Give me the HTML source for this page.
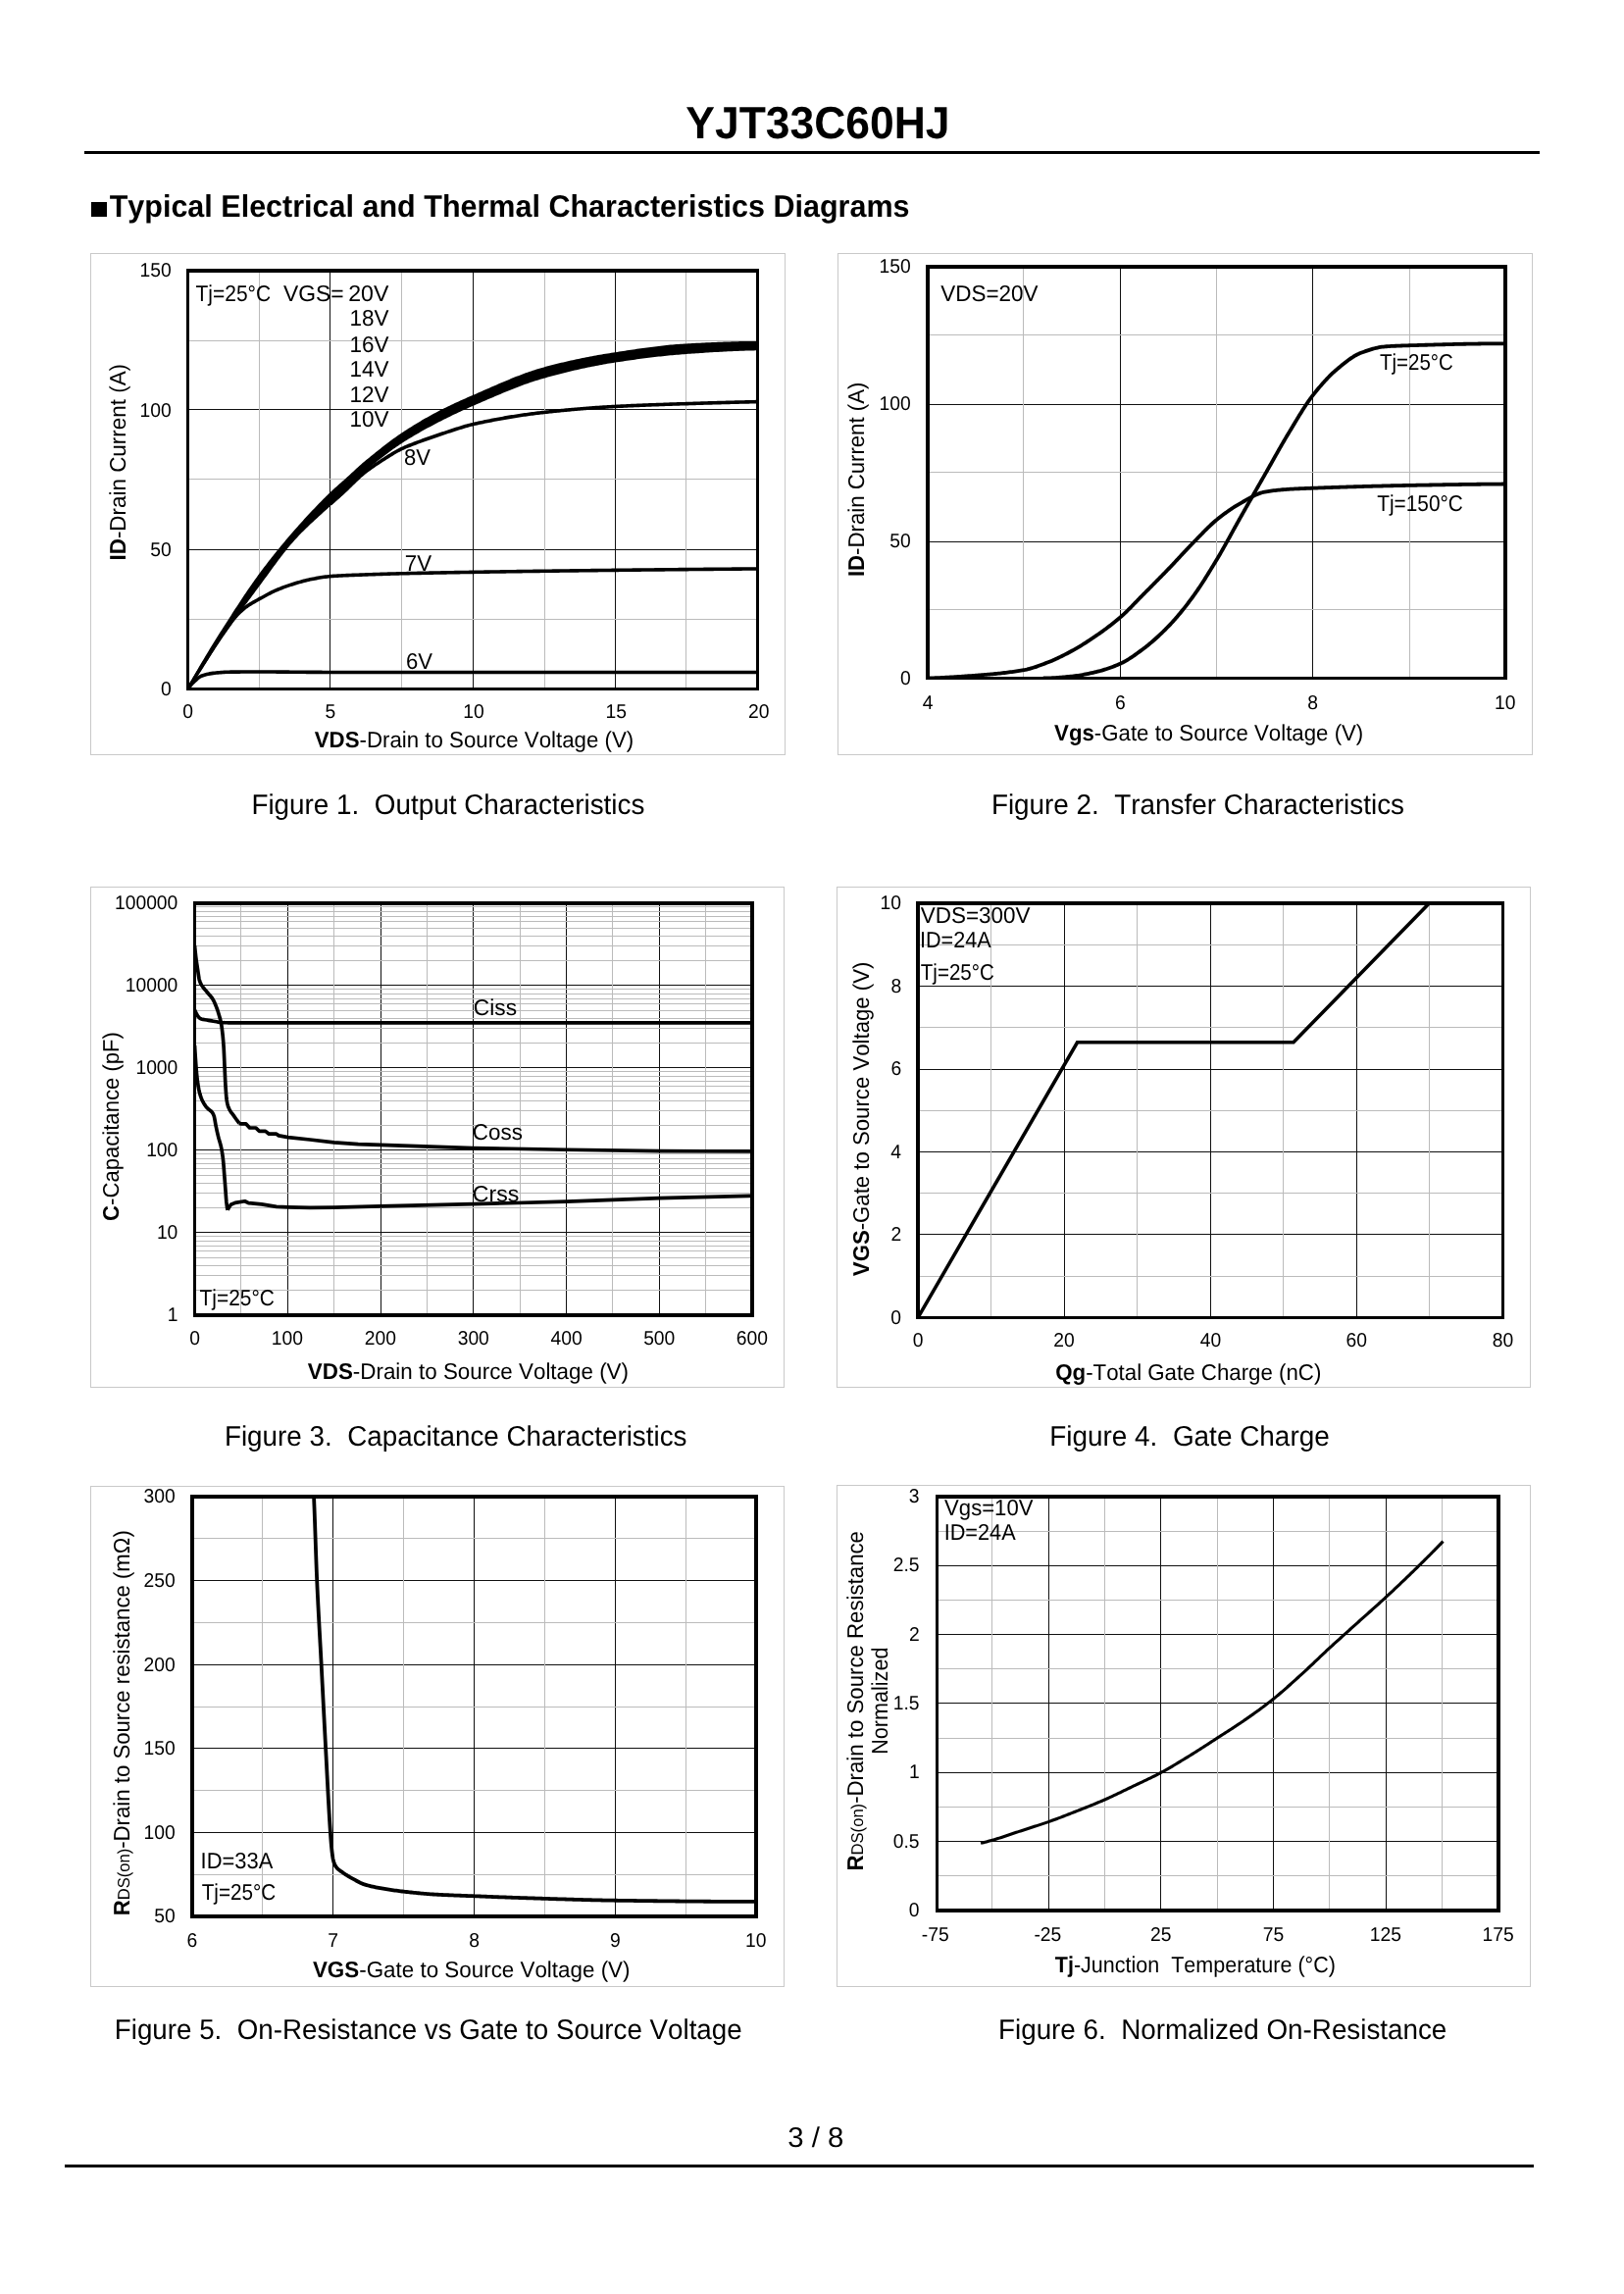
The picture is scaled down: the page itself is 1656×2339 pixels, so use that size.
<!DOCTYPE html>
<html lang="en"><head><meta charset="utf-8"><title>YJT33C60HJ - Typical Electrical and Thermal Characteristics Diagrams</title>
<style>html,body{margin:0;padding:0;background:#fff}body{width:1656px;height:2339px;overflow:hidden}svg{display:block;will-change:transform}text{font-family:"Liberation Sans",sans-serif;fill:#000;font-kerning:none;white-space:pre;text-rendering:geometricPrecision}</style></head><body>
<svg width="1656" height="2339" viewBox="0 0 1656 2339">
<rect width="1656" height="2339" fill="#fff"/>
<text x="699.34" y="141" font-size="46.1" textLength="269.09" lengthAdjust="spacingAndGlyphs"><tspan font-weight="bold">YJT33C60HJ</tspan></text>
<rect x="86" y="154" width="1484" height="3" fill="#000" shape-rendering="crispEdges"/>
<rect x="93" y="206" width="16" height="15" fill="#000"/>
<text x="111.66" y="221" font-size="31.7" textLength="815.89" lengthAdjust="spacingAndGlyphs"><tspan font-weight="bold">Typical Electrical and Thermal Characteristics Diagrams</tspan></text>
<text x="803.28" y="2188.5" font-size="28.8" textLength="57.2" lengthAdjust="spacingAndGlyphs">3 / 8</text>
<rect x="66" y="2207" width="1498" height="3" fill="#000" shape-rendering="crispEdges"/>
<text x="256.41" y="830" font-size="28.8" textLength="400.99" lengthAdjust="spacingAndGlyphs">Figure 1.  Output Characteristics</text>
<text x="1010.91" y="830" font-size="28.8" textLength="421.09" lengthAdjust="spacingAndGlyphs">Figure 2.  Transfer Characteristics</text>
<text x="228.92" y="1474" font-size="28.8" textLength="471.59" lengthAdjust="spacingAndGlyphs">Figure 3.  Capacitance Characteristics</text>
<text x="1070.21" y="1474" font-size="28.8" textLength="285.53" lengthAdjust="spacingAndGlyphs">Figure 4.  Gate Charge</text>
<text x="116.82" y="2079" font-size="28.8" textLength="639.81" lengthAdjust="spacingAndGlyphs">Figure 5.  On-Resistance vs Gate to Source Voltage</text>
<text x="1018.02" y="2079" font-size="28.8" textLength="457.32" lengthAdjust="spacingAndGlyphs">Figure 6.  Normalized On-Resistance</text>
<rect x="92.5" y="258.5" width="708" height="511" fill="#fff" stroke="#c9c9c9" stroke-width="1"/>
<clipPath id="cp1"><rect x="191.5" y="276" width="581" height="426.5"/></clipPath>
<g stroke-width="1" shape-rendering="crispEdges" fill="none"><path d="M336.5,276 V702.5" stroke="#101010"/><path d="M482.5,276 V702.5" stroke="#101010"/><path d="M627.5,276 V702.5" stroke="#101010"/><path d="M191.5,560.5 H772.5" stroke="#101010"/><path d="M191.5,417.5 H772.5" stroke="#101010"/><path d="M264.5,276 V702.5" stroke="#bbbbbb"/><path d="M409.5,276 V702.5" stroke="#bbbbbb"/><path d="M555.5,276 V702.5" stroke="#bbbbbb"/><path d="M699.5,276 V702.5" stroke="#bbbbbb"/><path d="M191.5,631.5 H772.5" stroke="#bbbbbb"/><path d="M191.5,488.5 H772.5" stroke="#bbbbbb"/><path d="M191.5,347.5 H772.5" stroke="#bbbbbb"/></g>
<path d="M191.5,700.4 L192.54,698.52 L193.57,696.64 L194.61,694.77 L195.65,692.91 L196.69,691.05 L197.72,689.21 L198.76,687.37 L199.8,685.54 L200.84,683.73 L201.88,681.92 L202.91,680.12 L203.95,678.34 L204.99,676.56 L206.03,674.8 L207.11,672.96 L208.2,671.13 L209.29,669.31 L210.38,667.49 L211.47,665.69 L212.56,663.89 L213.65,662.1 L214.74,660.32 L215.83,658.55 L216.92,656.79 L218.01,655.03 L219.1,653.28 L220.19,651.53 L221.28,649.79 L222.37,648.06 L223.46,646.34 L224.54,644.62 L225.63,642.91 L226.72,641.2 L227.81,639.5 L228.95,637.73 L230.08,635.96 L231.22,634.19 L232.35,632.43 L233.49,630.66 L234.62,628.89 L235.76,627.13 L236.89,625.37 L238.03,623.62 L239.16,621.87 L240.29,620.12 L241.43,618.38 L242.56,616.64 L243.7,614.91 L244.83,613.19 L245.97,611.47 L247.1,609.76 L248.24,608.06 L249.37,606.36 L250.51,604.68 L251.64,603 L252.78,601.33 L253.91,599.68 L255.05,598.03 L256.18,596.39 L257.32,594.77 L258.45,593.16 L259.59,591.56 L260.72,589.97 L261.86,588.4 L262.99,586.84 L264.12,585.3 L265.42,583.55 L266.72,581.81 L268.02,580.09 L269.31,578.37 L270.61,576.67 L271.91,574.97 L273.2,573.29 L274.5,571.62 L275.8,569.96 L277.09,568.32 L278.39,566.68 L279.69,565.05 L280.98,563.43 L282.28,561.83 L283.58,560.23 L284.88,558.64 L286.17,557.06 L287.47,555.5 L288.77,553.94 L290.06,552.39 L291.36,550.85 L292.66,549.31 L293.95,547.79 L295.25,546.28 L296.55,544.77 L297.84,543.27 L299.14,541.78 L300.44,540.3 L301.83,538.71 L303.23,537.13 L304.63,535.56 L306.02,534 L307.42,532.45 L308.82,530.9 L310.21,529.37 L311.61,527.84 L313.01,526.32 L314.4,524.82 L315.8,523.32 L317.2,521.83 L318.59,520.35 L319.99,518.88 L321.39,517.42 L322.78,515.96 L324.18,514.52 L325.58,513.09 L326.97,511.67 L328.37,510.26 L329.77,508.85 L331.16,507.46 L332.56,506.08 L333.96,504.71 L335.35,503.35 L336.75,502 L338.33,500.49 L339.92,499.02 L341.5,497.57 L343.09,496.14 L344.67,494.72 L346.26,493.32 L347.84,491.93 L349.43,490.53 L351.01,489.13 L352.6,487.72 L354.18,486.3 L355.71,484.91 L357.24,483.5 L358.78,482.09 L360.31,480.68 L361.84,479.26 L363.37,477.85 L364.9,476.45 L366.43,475.06 L367.97,473.69 L369.5,472.33 L371.03,471 L372.05,470.14 L373.06,469.3 L374.71,467.97 L376.36,466.63 L378.01,465.3 L379.66,463.97 L381.32,462.64 L382.97,461.32 L384.62,460 L386.27,458.69 L387.92,457.39 L389.57,456.1 L391.22,454.81 L392.87,453.54 L394.52,452.28 L396.17,451.03 L397.82,449.79 L399.47,448.57 L401.12,447.36 L402.77,446.17 L404.42,445 L406.07,443.85 L407.72,442.71 L409.38,441.6 L411.1,440.45 L412.83,439.31 L414.56,438.19 L416.29,437.08 L418.02,435.98 L419.75,434.89 L421.48,433.81 L423.21,432.75 L424.94,431.7 L426.67,430.66 L428.4,429.63 L430.12,428.62 L431.85,427.61 L433.58,426.62 L435.31,425.64 L437.04,424.67 L438.77,423.71 L440.5,422.77 L442.23,421.83 L443.96,420.91 L445.69,420 L447.5,419.06 L449.32,418.12 L451.13,417.21 L452.95,416.3 L454.77,415.4 L456.58,414.52 L458.4,413.65 L460.21,412.78 L462.03,411.93 L463.84,411.08 L465.66,410.25 L467.48,409.42 L469.29,408.59 L471.11,407.78 L472.92,406.97 L474.74,406.17 L476.55,405.37 L478.37,404.58 L480.18,403.79 L482,403 L483.86,402.19 L485.72,401.38 L487.59,400.57 L489.45,399.76 L491.31,398.94 L493.17,398.12 L495.04,397.3 L496.9,396.48 L498.76,395.66 L500.62,394.85 L502.48,394.03 L504.35,393.22 L506.21,392.41 L508.07,391.6 L509.93,390.8 L511.79,390 L513.66,389.21 L515.52,388.43 L517.38,387.65 L519.24,386.88 L521.11,386.11 L522.97,385.36 L524.83,384.61 L526.69,383.87 L528.55,383.15 L530.42,382.43 L532.28,381.73 L534.14,381.04 L536,380.36 L537.87,379.69 L539.73,379.04 L541.59,378.4 L543.45,377.78 L545.31,377.17 L547.18,376.58 L549.04,376.01 L550.9,375.46 L552.76,374.92 L554.62,374.4 L556.59,373.87 L558.55,373.34 L560.51,372.82 L562.48,372.31 L564.44,371.81 L566.4,371.32 L568.36,370.83 L570.33,370.35 L572.29,369.87 L574.25,369.41 L576.22,368.95 L578.18,368.49 L580.14,368.05 L582.1,367.61 L584.07,367.18 L586.03,366.75 L587.99,366.33 L589.96,365.92 L591.92,365.51 L593.88,365.11 L595.84,364.71 L597.81,364.33 L599.77,363.94 L601.73,363.57 L603.7,363.2 L605.66,362.84 L607.62,362.48 L609.58,362.12 L611.55,361.78 L613.51,361.44 L615.47,361.1 L617.44,360.77 L619.4,360.45 L621.36,360.13 L623.32,359.81 L625.29,359.5 L627.25,359.2 L629.27,358.89 L631.28,358.58 L633.3,358.27 L635.32,357.96 L637.34,357.65 L639.35,357.35 L641.37,357.04 L643.39,356.74 L645.41,356.44 L647.42,356.14 L649.44,355.85 L651.46,355.56 L653.48,355.27 L655.49,354.98 L657.51,354.7 L659.53,354.43 L661.55,354.16 L663.56,353.89 L665.58,353.63 L667.6,353.38 L669.61,353.13 L671.63,352.89 L673.65,352.66 L675.67,352.43 L677.68,352.21 L679.7,352 L681.72,351.8 L683.74,351.61 L685.75,351.42 L687.77,351.24 L689.79,351.08 L691.81,350.92 L693.82,350.77 L695.84,350.64 L697.86,350.51 L699.88,350.4 L701.89,350.29 L703.91,350.18 L705.93,350.08 L707.94,349.97 L709.96,349.87 L711.98,349.76 L714,349.66 L716.01,349.56 L718.03,349.46 L720.05,349.36 L722.07,349.27 L724.08,349.17 L726.1,349.08 L728.12,348.99 L730.14,348.91 L732.15,348.82 L734.17,348.74 L736.19,348.66 L738.2,348.59 L740.22,348.52 L742.24,348.45 L744.26,348.38 L746.27,348.32 L748.29,348.26 L750.31,348.21 L752.33,348.15 L754.34,348.11 L756.36,348.07 L758.38,348.03 L760.4,348 L762.41,347.97 L764.43,347.94 L766.45,347.92 L768.47,347.91 L770.48,347.9 L772.5,347.9 L772.5,357.3 L770.48,357.34 L768.47,357.38 L766.45,357.43 L764.43,357.48 L762.41,357.54 L760.4,357.6 L758.38,357.67 L756.36,357.74 L754.34,357.81 L752.33,357.89 L750.31,357.97 L748.29,358.06 L746.27,358.15 L744.26,358.25 L742.24,358.35 L740.22,358.45 L738.2,358.55 L736.19,358.66 L734.17,358.77 L732.15,358.88 L730.14,359 L728.12,359.12 L726.1,359.24 L724.08,359.37 L722.07,359.49 L720.05,359.62 L718.03,359.75 L716.01,359.89 L714,360.02 L711.98,360.16 L709.96,360.29 L707.94,360.43 L705.93,360.57 L703.91,360.71 L701.89,360.86 L699.88,361 L697.86,361.15 L695.84,361.3 L693.82,361.46 L691.81,361.63 L689.79,361.8 L687.77,361.98 L685.75,362.16 L683.74,362.35 L681.72,362.55 L679.7,362.75 L677.68,362.95 L675.67,363.17 L673.65,363.38 L671.63,363.61 L669.61,363.83 L667.6,364.07 L665.58,364.3 L663.56,364.55 L661.55,364.79 L659.53,365.04 L657.51,365.3 L655.49,365.56 L653.48,365.82 L651.46,366.09 L649.44,366.37 L647.42,366.64 L645.41,366.92 L643.39,367.21 L641.37,367.49 L639.35,367.79 L637.34,368.08 L635.32,368.38 L633.3,368.68 L631.28,368.98 L629.27,369.29 L627.25,369.6 L625.29,369.91 L623.32,370.22 L621.36,370.54 L619.4,370.87 L617.44,371.21 L615.47,371.56 L613.51,371.91 L611.55,372.27 L609.58,372.64 L607.62,373.01 L605.66,373.39 L603.7,373.78 L601.73,374.18 L599.77,374.58 L597.81,374.99 L595.84,375.41 L593.88,375.84 L591.92,376.27 L589.96,376.71 L587.99,377.15 L586.03,377.6 L584.07,378.06 L582.1,378.53 L580.14,379 L578.18,379.48 L576.22,379.96 L574.25,380.45 L572.29,380.95 L570.33,381.45 L568.36,381.96 L566.4,382.48 L564.44,383 L562.48,383.53 L560.51,384.06 L558.55,384.6 L556.59,385.15 L554.62,385.7 L552.71,386.25 L550.8,386.81 L548.89,387.4 L546.98,387.99 L545.07,388.6 L543.16,389.23 L541.25,389.87 L539.34,390.53 L537.42,391.19 L535.51,391.87 L533.6,392.57 L531.69,393.27 L529.78,393.98 L527.87,394.71 L525.96,395.45 L524.05,396.19 L522.13,396.95 L520.22,397.71 L518.31,398.48 L516.4,399.26 L514.49,400.04 L512.58,400.84 L510.67,401.64 L508.76,402.44 L506.85,403.25 L504.93,404.06 L503.02,404.88 L501.11,405.7 L499.2,406.53 L497.29,407.35 L495.38,408.18 L493.47,409.01 L491.56,409.84 L489.64,410.68 L487.73,411.51 L485.82,412.34 L483.91,413.17 L482,414 L480.18,414.79 L478.37,415.59 L476.55,416.4 L474.74,417.21 L472.92,418.03 L471.11,418.86 L469.29,419.69 L467.48,420.54 L465.66,421.39 L463.84,422.25 L462.03,423.12 L460.21,424 L458.4,424.88 L456.58,425.77 L454.77,426.67 L452.95,427.58 L451.13,428.5 L449.32,429.42 L447.5,430.36 L445.69,431.3 L443.87,432.25 L442.06,433.2 L440.24,434.17 L438.43,435.14 L436.61,436.11 L434.79,437.1 L432.98,438.09 L431.16,439.1 L429.35,440.12 L427.53,441.14 L425.72,442.18 L423.9,443.24 L422.08,444.3 L420.27,445.38 L418.45,446.48 L416.64,447.59 L414.82,448.71 L413.01,449.86 L411.19,451.02 L409.38,452.2 L407.72,453.29 L406.07,454.4 L404.42,455.53 L402.77,456.68 L401.12,457.84 L399.47,459.03 L397.82,460.23 L396.17,461.44 L394.52,462.67 L392.87,463.92 L391.22,465.17 L389.57,466.45 L387.92,467.73 L386.27,469.03 L384.62,470.34 L382.97,471.66 L381.32,473 L379.66,474.34 L378.01,475.69 L376.36,477.05 L374.71,478.42 L373.06,479.8 L372.05,480.67 L371.03,481.6 L369.62,482.99 L368.22,484.47 L366.82,486.02 L365.41,487.63 L364.01,489.27 L362.6,490.93 L361.2,492.59 L359.8,494.24 L358.39,495.86 L356.99,497.44 L355.58,498.96 L354.18,500.4 L352.6,501.94 L351.01,503.43 L349.43,504.88 L347.84,506.29 L346.26,507.67 L344.67,509.04 L343.09,510.4 L341.5,511.77 L339.92,513.15 L338.33,514.56 L336.75,516 L335.3,517.34 L333.85,518.66 L332.39,519.99 L330.94,521.3 L329.49,522.62 L328.04,523.94 L326.58,525.25 L325.13,526.57 L323.68,527.89 L322.23,529.22 L320.77,530.55 L319.32,531.9 L317.87,533.25 L316.42,534.61 L314.96,535.99 L313.51,537.38 L312.06,538.79 L310.61,540.21 L309.15,541.66 L307.7,543.12 L306.25,544.61 L304.8,546.11 L303.34,547.65 L301.89,549.21 L300.44,550.8 L299.19,552.2 L297.93,553.63 L296.68,555.08 L295.43,556.56 L294.18,558.07 L292.92,559.6 L291.67,561.15 L290.42,562.73 L289.17,564.32 L287.92,565.93 L286.66,567.56 L285.41,569.2 L284.16,570.86 L282.91,572.53 L281.66,574.21 L280.4,575.9 L279.15,577.6 L277.9,579.3 L276.65,581.01 L275.39,582.73 L274.14,584.44 L272.89,586.16 L271.64,587.88 L270.39,589.6 L269.13,591.31 L267.88,593.02 L266.63,594.72 L265.38,596.41 L264.12,598.1 L262.95,599.67 L261.78,601.25 L260.61,602.82 L259.44,604.4 L258.27,605.98 L257.1,607.56 L255.93,609.14 L254.75,610.72 L253.58,612.31 L252.41,613.9 L251.24,615.49 L250.07,617.09 L248.9,618.69 L247.73,620.3 L246.55,621.9 L245.38,623.52 L244.21,625.13 L243.04,626.76 L241.87,628.38 L240.7,630.02 L239.53,631.65 L238.35,633.3 L237.18,634.95 L236.01,636.61 L234.84,638.27 L233.67,639.94 L232.5,641.62 L231.33,643.3 L230.16,644.99 L228.98,646.69 L227.81,648.4 L226.67,650.08 L225.52,651.79 L224.37,653.5 L223.23,655.23 L222.08,656.97 L220.93,658.72 L219.79,660.48 L218.64,662.25 L217.49,664.02 L216.35,665.8 L215.2,667.58 L214.05,669.37 L212.91,671.15 L211.76,672.94 L210.61,674.72 L209.47,676.5 L208.32,678.27 L207.17,680.04 L206.03,681.8 L204.91,683.51 L203.79,685.22 L202.67,686.93 L201.56,688.64 L200.44,690.35 L199.32,692.05 L198.2,693.76 L197.09,695.47 L195.97,697.18 L194.85,698.88 L193.73,700.59 L192.62,702.29 L191.5,704 Z" fill="#000" clip-path="url(#cp1)"/>
<path d="M191.5,702.5 L192.31,701.18 L193.11,699.87 L193.92,698.56 L194.73,697.25 L195.53,695.94 L196.34,694.64 L197.15,693.34 L197.96,692.04 L198.76,690.74 L199.57,689.44 L200.38,688.15 L201.18,686.86 L201.99,685.57 L202.8,684.29 L203.6,683.01 L204.41,681.73 L205.22,680.46 L206.03,679.18 L206.86,677.86 L207.7,676.54 L208.54,675.21 L209.38,673.88 L210.21,672.55 L211.05,671.22 L211.89,669.89 L212.73,668.56 L213.57,667.24 L214.4,665.91 L215.24,664.59 L216.08,663.27 L216.92,661.96 L217.76,660.65 L218.59,659.35 L219.43,658.05 L220.27,656.77 L221.11,655.49 L221.95,654.22 L222.78,652.96 L223.62,651.71 L224.46,650.47 L225.3,649.24 L226.14,648.02 L226.97,646.82 L227.81,645.63 L228.78,644.26 L229.75,642.89 L230.72,641.51 L231.69,640.14 L232.65,638.77 L233.62,637.42 L234.59,636.08 L235.56,634.77 L236.53,633.48 L237.5,632.23 L238.46,631.01 L239.43,629.83 L240.4,628.69 L241.37,627.61 L242.34,626.58 L243.61,625.3 L244.88,624.07 L246.15,622.89 L247.42,621.76 L248.69,620.68 L249.96,619.66 L251.23,618.69 L252.5,617.77 L253.96,616.78 L255.41,615.86 L256.86,614.98 L258.31,614.14 L259.77,613.33 L261.22,612.53 L262.67,611.74 L264.12,610.94 L265.47,610.2 L266.81,609.45 L268.15,608.7 L269.49,607.95 L270.83,607.21 L272.17,606.48 L273.51,605.76 L274.85,605.05 L276.19,604.37 L277.53,603.7 L278.87,603.05 L280.21,602.44 L281.56,601.85 L283.01,601.23 L284.46,600.63 L285.91,600.05 L287.37,599.48 L288.82,598.93 L290.27,598.39 L291.72,597.87 L293.18,597.36 L294.63,596.87 L296.08,596.39 L297.53,595.92 L298.99,595.46 L300.44,595.02 L302.01,594.55 L303.58,594.09 L305.16,593.64 L306.73,593.19 L308.31,592.76 L309.88,592.34 L311.45,591.93 L313.03,591.54 L314.6,591.17 L316.17,590.82 L317.75,590.49 L319.32,590.19 L320.9,589.9 L322.49,589.61 L324.07,589.33 L325.66,589.05 L327.24,588.79 L328.83,588.55 L330.41,588.32 L332,588.11 L333.58,587.93 L335.17,587.76 L336.75,587.63 L338.26,587.52 L339.78,587.41 L341.29,587.31 L342.8,587.22 L344.32,587.13 L345.83,587.04 L347.34,586.96 L348.85,586.88 L350.37,586.81 L351.88,586.74 L353.39,586.67 L354.91,586.6 L356.42,586.54 L357.93,586.48 L359.45,586.42 L360.96,586.36 L362.47,586.31 L363.98,586.25 L365.5,586.2 L367.01,586.14 L368.52,586.09 L370.04,586.03 L371.55,585.98 L373.06,585.92 L374.58,585.87 L376.09,585.81 L377.6,585.76 L379.11,585.7 L380.63,585.65 L382.14,585.6 L383.65,585.54 L385.17,585.49 L386.68,585.44 L388.19,585.39 L389.71,585.34 L391.22,585.3 L392.73,585.25 L394.24,585.2 L395.76,585.16 L397.27,585.11 L398.78,585.07 L400.3,585.03 L401.81,584.98 L403.32,584.94 L404.84,584.9 L406.35,584.86 L407.86,584.82 L409.38,584.79 L410.89,584.75 L412.4,584.71 L413.91,584.68 L415.43,584.64 L416.94,584.6 L418.45,584.57 L419.97,584.53 L421.48,584.5 L422.99,584.47 L424.51,584.43 L426.02,584.4 L427.53,584.37 L429.04,584.33 L430.56,584.3 L432.07,584.27 L433.58,584.24 L435.1,584.21 L436.61,584.18 L438.12,584.15 L439.64,584.12 L441.15,584.09 L442.66,584.06 L444.17,584.03 L445.69,584 L447.2,583.97 L448.71,583.94 L450.23,583.91 L451.74,583.89 L453.25,583.86 L454.77,583.83 L456.28,583.8 L457.79,583.78 L459.3,583.75 L460.82,583.72 L462.33,583.7 L463.84,583.67 L465.36,583.64 L466.87,583.62 L468.38,583.59 L469.9,583.57 L471.41,583.54 L472.92,583.52 L474.43,583.49 L475.95,583.46 L477.46,583.44 L478.97,583.41 L480.49,583.39 L482,583.36 L483.51,583.34 L485.03,583.31 L486.54,583.29 L488.05,583.27 L489.57,583.24 L491.08,583.22 L492.59,583.19 L494.1,583.17 L495.62,583.14 L497.13,583.12 L498.64,583.1 L500.16,583.07 L501.67,583.05 L503.18,583.03 L504.7,583 L506.21,582.98 L507.72,582.96 L509.23,582.93 L510.75,582.91 L512.26,582.89 L513.77,582.86 L515.29,582.84 L516.8,582.82 L518.31,582.8 L519.83,582.77 L521.34,582.75 L522.85,582.73 L524.36,582.71 L525.88,582.68 L527.39,582.66 L528.9,582.64 L530.42,582.62 L531.93,582.6 L533.44,582.57 L534.96,582.55 L536.47,582.53 L537.98,582.51 L539.49,582.49 L541.01,582.47 L542.52,582.44 L544.03,582.42 L545.55,582.4 L547.06,582.38 L548.57,582.36 L550.09,582.34 L551.6,582.32 L553.11,582.3 L554.62,582.28 L556.14,582.26 L557.65,582.24 L559.16,582.22 L560.68,582.2 L562.19,582.18 L563.7,582.16 L565.22,582.14 L566.73,582.12 L568.24,582.1 L569.76,582.08 L571.27,582.06 L572.78,582.04 L574.29,582.02 L575.81,582 L577.32,581.98 L578.83,581.96 L580.35,581.94 L581.86,581.92 L583.37,581.9 L584.89,581.88 L586.4,581.86 L587.91,581.84 L589.42,581.83 L590.94,581.81 L592.45,581.79 L593.96,581.77 L595.48,581.75 L596.99,581.73 L598.5,581.71 L600.02,581.69 L601.53,581.68 L603.04,581.66 L604.55,581.64 L606.07,581.62 L607.58,581.6 L609.09,581.59 L610.61,581.57 L612.12,581.55 L613.63,581.53 L615.15,581.51 L616.66,581.5 L618.17,581.48 L619.68,581.46 L621.2,581.44 L622.71,581.43 L624.22,581.41 L625.74,581.39 L627.25,581.37 L628.76,581.36 L630.28,581.34 L631.79,581.32 L633.3,581.31 L634.82,581.29 L636.33,581.27 L637.84,581.25 L639.35,581.24 L640.87,581.22 L642.38,581.2 L643.89,581.19 L645.41,581.17 L646.92,581.15 L648.43,581.14 L649.95,581.12 L651.46,581.1 L652.97,581.09 L654.48,581.07 L656,581.05 L657.51,581.04 L659.02,581.02 L660.54,581 L662.05,580.99 L663.56,580.97 L665.08,580.96 L666.59,580.94 L668.1,580.92 L669.61,580.91 L671.13,580.89 L672.64,580.88 L674.15,580.86 L675.67,580.84 L677.18,580.83 L678.69,580.81 L680.21,580.8 L681.72,580.78 L683.23,580.77 L684.74,580.75 L686.26,580.73 L687.77,580.72 L689.28,580.7 L690.8,580.69 L692.31,580.67 L693.82,580.66 L695.34,580.64 L696.85,580.63 L698.36,580.61 L699.88,580.6 L701.39,580.58 L702.9,580.57 L704.41,580.55 L705.93,580.54 L707.44,580.52 L708.95,580.51 L710.47,580.49 L711.98,580.48 L713.49,580.47 L715.01,580.45 L716.52,580.44 L718.03,580.42 L719.54,580.41 L721.06,580.39 L722.57,580.38 L724.08,580.37 L725.6,580.35 L727.11,580.34 L728.62,580.32 L730.14,580.31 L731.65,580.3 L733.16,580.28 L734.67,580.27 L736.19,580.26 L737.7,580.24 L739.21,580.23 L740.73,580.22 L742.24,580.2 L743.75,580.19 L745.27,580.18 L746.78,580.16 L748.29,580.15 L749.8,580.14 L751.32,580.13 L752.83,580.11 L754.34,580.1 L755.86,580.09 L757.37,580.07 L758.88,580.06 L760.4,580.05 L761.91,580.04 L763.42,580.02 L764.93,580.01 L766.45,580 L767.96,579.99 L769.47,579.98 L770.99,579.96 L772.5,579.95" fill="none" stroke="#000" stroke-width="3.6" stroke-linejoin="round" stroke-linecap="butt" clip-path="url(#cp1)"/>
<path d="M336.75,513.99 L337.91,512.93 L339.07,511.88 L340.24,510.82 L341.4,509.77 L342.56,508.71 L343.72,507.65 L344.88,506.59 L346.05,505.53 L347.21,504.46 L348.37,503.4 L349.53,502.34 L350.69,501.27 L351.86,500.2 L353.02,499.13 L354.18,498.06 L355.3,497.02 L356.43,495.96 L357.55,494.88 L358.67,493.8 L359.8,492.71 L360.92,491.62 L362.04,490.53 L363.17,489.45 L364.29,488.38 L365.41,487.32 L366.54,486.29 L367.66,485.28 L368.78,484.29 L369.91,483.34 L371.03,482.43 L372.34,481.4 L373.64,480.39 L374.95,479.4 L376.26,478.44 L377.57,477.49 L378.87,476.56 L380.18,475.65 L381.49,474.75 L382.79,473.86 L384.1,472.99 L385.41,472.13 L386.72,471.27 L388.02,470.43 L389.33,469.59 L390.64,468.76 L391.95,467.92 L393.29,467.07 L394.63,466.22 L395.97,465.38 L397.31,464.53 L398.65,463.7 L399.99,462.88 L401.33,462.07 L402.67,461.28 L404.01,460.51 L405.35,459.76 L406.69,459.04 L408.03,458.35 L409.38,457.69 L410.83,457.01 L412.28,456.35 L413.73,455.72 L415.19,455.11 L416.64,454.52 L418.09,453.95 L419.54,453.38 L421,452.82 L422.45,452.27 L423.9,451.72 L425.35,451.17 L426.81,450.63 L428.26,450.1 L429.71,449.57 L431.16,449.05 L432.62,448.54 L434.07,448.03 L435.52,447.53 L436.97,447.03 L438.43,446.53 L439.88,446.03 L441.33,445.54 L442.78,445.04 L444.24,444.54 L445.69,444.04 L447.11,443.55 L448.53,443.05 L449.96,442.56 L451.38,442.07 L452.8,441.58 L454.23,441.09 L455.65,440.61 L457.08,440.13 L458.5,439.67 L459.92,439.21 L461.39,438.74 L462.87,438.26 L464.34,437.79 L465.81,437.31 L467.28,436.84 L468.75,436.37 L470.23,435.91 L471.7,435.46 L473.17,435.01 L474.64,434.58 L476.11,434.16 L477.58,433.76 L479.06,433.38 L480.53,433.01 L482,432.67 L483.48,432.33 L484.96,432.01 L486.45,431.68 L487.93,431.36 L489.41,431.04 L490.89,430.72 L492.38,430.41 L493.86,430.1 L495.34,429.8 L496.82,429.49 L498.3,429.2 L499.79,428.9 L501.27,428.61 L502.75,428.32 L504.23,428.04 L505.71,427.76 L507.2,427.48 L508.68,427.2 L510.16,426.93 L511.64,426.67 L513.12,426.4 L514.61,426.14 L516.09,425.89 L517.57,425.63 L519.05,425.38 L520.54,425.14 L522.02,424.89 L523.5,424.66 L524.98,424.42 L526.46,424.19 L527.95,423.96 L529.43,423.73 L530.91,423.51 L532.39,423.29 L533.88,423.08 L535.36,422.87 L536.84,422.66 L538.32,422.46 L539.8,422.25 L541.29,422.06 L542.77,421.86 L544.25,421.67 L545.73,421.49 L547.21,421.3 L548.7,421.12 L550.18,420.95 L551.66,420.78 L553.14,420.61 L554.62,420.44 L556.14,420.28 L557.65,420.11 L559.16,419.95 L560.68,419.79 L562.19,419.63 L563.7,419.47 L565.22,419.31 L566.73,419.16 L568.24,419.01 L569.76,418.86 L571.27,418.71 L572.78,418.56 L574.29,418.42 L575.81,418.27 L577.32,418.13 L578.83,417.99 L580.35,417.85 L581.86,417.72 L583.37,417.58 L584.89,417.45 L586.4,417.32 L587.91,417.19 L589.42,417.06 L590.94,416.93 L592.45,416.81 L593.96,416.69 L595.48,416.57 L596.99,416.45 L598.5,416.33 L600.02,416.22 L601.53,416.11 L603.04,415.99 L604.55,415.89 L606.07,415.78 L607.58,415.67 L609.09,415.57 L610.61,415.47 L612.12,415.37 L613.63,415.27 L615.15,415.17 L616.66,415.08 L618.17,414.99 L619.68,414.9 L621.2,414.81 L622.71,414.72 L624.22,414.63 L625.74,414.55 L627.25,414.47 L628.76,414.39 L630.28,414.31 L631.79,414.24 L633.3,414.16 L634.82,414.08 L636.33,414.01 L637.84,413.94 L639.35,413.87 L640.87,413.8 L642.38,413.73 L643.89,413.66 L645.41,413.59 L646.92,413.53 L648.43,413.46 L649.95,413.4 L651.46,413.34 L652.97,413.27 L654.48,413.21 L656,413.15 L657.51,413.09 L659.02,413.03 L660.54,412.97 L662.05,412.92 L663.56,412.86 L665.08,412.8 L666.59,412.75 L668.1,412.69 L669.61,412.64 L671.13,412.58 L672.64,412.53 L674.15,412.48 L675.67,412.43 L677.18,412.37 L678.69,412.32 L680.21,412.27 L681.72,412.22 L683.23,412.17 L684.74,412.12 L686.26,412.07 L687.77,412.02 L689.28,411.97 L690.8,411.92 L692.31,411.87 L693.82,411.82 L695.34,411.77 L696.85,411.72 L698.36,411.68 L699.88,411.63 L701.39,411.58 L702.9,411.53 L704.41,411.48 L705.93,411.43 L707.44,411.39 L708.95,411.34 L710.47,411.29 L711.98,411.24 L713.49,411.2 L715.01,411.15 L716.52,411.11 L718.03,411.06 L719.54,411.01 L721.06,410.97 L722.57,410.92 L724.08,410.88 L725.6,410.84 L727.11,410.79 L728.62,410.75 L730.14,410.7 L731.65,410.66 L733.16,410.62 L734.67,410.58 L736.19,410.53 L737.7,410.49 L739.21,410.45 L740.73,410.41 L742.24,410.37 L743.75,410.33 L745.27,410.29 L746.78,410.25 L748.29,410.21 L749.8,410.17 L751.32,410.13 L752.83,410.1 L754.34,410.06 L755.86,410.02 L757.37,409.98 L758.88,409.95 L760.4,409.91 L761.91,409.88 L763.42,409.84 L764.93,409.8 L766.45,409.77 L767.96,409.74 L769.47,409.7 L770.99,409.67 L772.5,409.64" fill="none" stroke="#000" stroke-width="3.6" stroke-linejoin="round" stroke-linecap="butt" clip-path="url(#cp1)"/>
<path d="M191.5,702.5 L192.66,700.97 L193.82,699.51 L194.99,698.12 L196.15,696.84 L197.31,695.68 L198.56,694.49 L199.8,693.32 L201.05,692.19 L202.29,691.16 L203.53,690.25 L204.78,689.5 L206.03,688.97 L207.64,688.45 L209.25,687.98 L210.87,687.57 L212.48,687.2 L214.09,686.88 L215.71,686.61 L217.32,686.37 L218.94,686.17 L220.55,686.01 L222.16,685.86 L223.78,685.73 L225.39,685.6 L227.01,685.49 L228.62,685.39 L230.23,685.3 L231.85,685.23 L233.46,685.18 L235.07,685.16 L236.6,685.14 L238.13,685.13 L239.66,685.11 L241.19,685.1 L242.72,685.09 L244.25,685.08 L245.78,685.07 L247.31,685.06 L248.84,685.05 L250.36,685.04 L251.89,685.04 L253.42,685.03 L254.95,685.03 L256.48,685.02 L258.01,685.02 L259.54,685.02 L261.07,685.02 L262.6,685.01 L264.12,685.01 L265.64,685.01 L267.15,685.02 L268.66,685.02 L270.18,685.02 L271.69,685.03 L273.2,685.03 L274.72,685.04 L276.23,685.05 L277.74,685.05 L279.26,685.06 L280.77,685.07 L282.28,685.08 L283.79,685.09 L285.31,685.1 L286.82,685.11 L288.33,685.12 L289.85,685.14 L291.36,685.15 L292.87,685.16 L294.39,685.17 L295.9,685.19 L297.41,685.2 L298.92,685.21 L300.44,685.23 L301.95,685.24 L303.46,685.25 L304.98,685.27 L306.49,685.28 L308,685.29 L309.52,685.31 L311.03,685.32 L312.54,685.33 L314.05,685.34 L315.57,685.35 L317.08,685.36 L318.59,685.37 L320.11,685.38 L321.62,685.39 L323.13,685.4 L324.65,685.41 L326.16,685.42 L327.67,685.42 L329.18,685.43 L330.7,685.43 L332.21,685.44 L333.72,685.44 L335.24,685.44 L336.75,685.44 L338.26,685.44 L339.78,685.44 L341.29,685.44 L342.8,685.44 L344.32,685.44 L345.83,685.44 L347.34,685.44 L348.85,685.44 L350.37,685.44 L351.88,685.44 L353.39,685.44 L354.91,685.44 L356.42,685.44 L357.93,685.44 L359.45,685.44 L360.96,685.44 L362.47,685.44 L363.98,685.44 L365.5,685.44 L367.01,685.44 L368.52,685.44 L370.04,685.44 L371.55,685.44 L373.06,685.44 L374.58,685.44 L376.09,685.44 L377.6,685.44 L379.11,685.44 L380.63,685.44 L382.14,685.44 L383.65,685.44 L385.17,685.44 L386.68,685.44 L388.19,685.44 L389.71,685.44 L391.22,685.44 L392.73,685.44 L394.24,685.44 L395.76,685.44 L397.27,685.44 L398.78,685.44 L400.3,685.44 L401.81,685.44 L403.32,685.44 L404.84,685.44 L406.35,685.44 L407.86,685.44 L409.38,685.44 L410.89,685.44 L412.4,685.44 L413.91,685.44 L415.43,685.44 L416.94,685.44 L418.45,685.44 L419.97,685.44 L421.48,685.44 L422.99,685.44 L424.51,685.44 L426.02,685.44 L427.53,685.44 L429.04,685.44 L430.56,685.44 L432.07,685.44 L433.58,685.44 L435.1,685.44 L436.61,685.44 L438.12,685.44 L439.64,685.44 L441.15,685.44 L442.66,685.44 L444.17,685.44 L445.69,685.44 L447.2,685.44 L448.71,685.44 L450.23,685.44 L451.74,685.44 L453.25,685.44 L454.77,685.44 L456.28,685.44 L457.79,685.44 L459.3,685.44 L460.82,685.44 L462.33,685.44 L463.84,685.44 L465.36,685.44 L466.87,685.44 L468.38,685.44 L469.9,685.44 L471.41,685.44 L472.92,685.44 L474.43,685.44 L475.95,685.44 L477.46,685.44 L478.97,685.44 L480.49,685.44 L482,685.44 L483.51,685.44 L485.01,685.44 L486.52,685.44 L488.02,685.44 L489.53,685.44 L491.03,685.44 L492.54,685.44 L494.04,685.44 L495.55,685.44 L497.05,685.44 L498.56,685.44 L500.06,685.44 L501.57,685.44 L503.07,685.44 L504.58,685.44 L506.08,685.44 L507.59,685.44 L509.09,685.44 L510.6,685.44 L512.1,685.44 L513.61,685.44 L515.11,685.44 L516.62,685.44 L518.12,685.44 L519.63,685.44 L521.13,685.44 L522.64,685.44 L524.15,685.44 L525.65,685.44 L527.16,685.44 L528.66,685.44 L530.17,685.44 L531.67,685.44 L533.18,685.44 L534.68,685.44 L536.19,685.44 L537.69,685.44 L539.2,685.44 L540.7,685.44 L542.21,685.44 L543.71,685.44 L545.22,685.44 L546.72,685.44 L548.23,685.44 L549.73,685.44 L551.24,685.44 L552.74,685.44 L554.25,685.44 L555.75,685.44 L557.26,685.44 L558.76,685.44 L560.27,685.44 L561.77,685.44 L563.28,685.44 L564.78,685.44 L566.29,685.44 L567.8,685.44 L569.3,685.44 L570.81,685.44 L572.31,685.44 L573.82,685.44 L575.32,685.44 L576.83,685.44 L578.33,685.44 L579.84,685.44 L581.34,685.44 L582.85,685.44 L584.35,685.44 L585.86,685.44 L587.36,685.44 L588.87,685.44 L590.37,685.44 L591.88,685.44 L593.38,685.44 L594.89,685.44 L596.39,685.44 L597.9,685.44 L599.4,685.44 L600.91,685.44 L602.41,685.44 L603.92,685.44 L605.42,685.44 L606.93,685.44 L608.44,685.44 L609.94,685.44 L611.45,685.44 L612.95,685.44 L614.46,685.44 L615.96,685.44 L617.47,685.44 L618.97,685.44 L620.48,685.44 L621.98,685.44 L623.49,685.44 L624.99,685.44 L626.5,685.44 L628,685.44 L629.51,685.44 L631.01,685.44 L632.52,685.44 L634.02,685.44 L635.53,685.44 L637.03,685.44 L638.54,685.44 L640.04,685.44 L641.55,685.44 L643.05,685.44 L644.56,685.44 L646.06,685.44 L647.57,685.44 L649.08,685.44 L650.58,685.44 L652.09,685.44 L653.59,685.44 L655.1,685.44 L656.6,685.44 L658.11,685.44 L659.61,685.44 L661.12,685.44 L662.62,685.44 L664.13,685.44 L665.63,685.44 L667.14,685.44 L668.64,685.44 L670.15,685.44 L671.65,685.44 L673.16,685.44 L674.66,685.44 L676.17,685.44 L677.67,685.44 L679.18,685.44 L680.68,685.44 L682.19,685.44 L683.69,685.44 L685.2,685.44 L686.7,685.44 L688.21,685.44 L689.72,685.44 L691.22,685.44 L692.73,685.44 L694.23,685.44 L695.74,685.44 L697.24,685.44 L698.75,685.44 L700.25,685.44 L701.76,685.44 L703.26,685.44 L704.77,685.44 L706.27,685.44 L707.78,685.44 L709.28,685.44 L710.79,685.44 L712.29,685.44 L713.8,685.44 L715.3,685.44 L716.81,685.44 L718.31,685.44 L719.82,685.44 L721.32,685.44 L722.83,685.44 L724.33,685.44 L725.84,685.44 L727.34,685.44 L728.85,685.44 L730.35,685.44 L731.86,685.44 L733.37,685.44 L734.87,685.44 L736.38,685.44 L737.88,685.44 L739.39,685.44 L740.89,685.44 L742.4,685.44 L743.9,685.44 L745.41,685.44 L746.91,685.44 L748.42,685.44 L749.92,685.44 L751.43,685.44 L752.93,685.44 L754.44,685.44 L755.94,685.44 L757.45,685.44 L758.95,685.44 L760.46,685.44 L761.96,685.44 L763.47,685.44 L764.97,685.44 L766.48,685.44 L767.98,685.44 L769.49,685.44 L770.99,685.44 L772.5,685.44" fill="none" stroke="#000" stroke-width="3.6" stroke-linejoin="round" stroke-linecap="butt" clip-path="url(#cp1)"/>
<path d="M190,274 H774 V704 H190 Z M193,278 V701 H771 V278 Z" fill="#000" fill-rule="evenodd" shape-rendering="crispEdges"/>
<text x="186.13" y="732" font-size="20" textLength="10.73" lengthAdjust="spacingAndGlyphs">0</text>
<text x="331.4" y="732" font-size="20" textLength="10.73" lengthAdjust="spacingAndGlyphs">5</text>
<text x="472.31" y="732" font-size="20" textLength="21.47" lengthAdjust="spacingAndGlyphs">10</text>
<text x="617.59" y="732" font-size="20" textLength="21.47" lengthAdjust="spacingAndGlyphs">15</text>
<text x="763.06" y="732" font-size="20" textLength="21.47" lengthAdjust="spacingAndGlyphs">20</text>
<text x="163.92" y="709" font-size="20" textLength="10.73" lengthAdjust="spacingAndGlyphs">0</text>
<text x="153.19" y="567" font-size="20" textLength="21.47" lengthAdjust="spacingAndGlyphs">50</text>
<text x="142.45" y="425" font-size="20" textLength="32.2" lengthAdjust="spacingAndGlyphs">100</text>
<text x="142.45" y="282" font-size="20" textLength="32.2" lengthAdjust="spacingAndGlyphs">150</text>
<text x="320.75" y="762" font-size="23" textLength="325.43" lengthAdjust="spacingAndGlyphs"><tspan font-weight="bold">VDS</tspan>-Drain to Source Voltage (V)</text>
<text transform="translate(128.2,571.5) rotate(-90)" font-size="23" textLength="200.59" lengthAdjust="spacingAndGlyphs"><tspan font-weight="bold">ID</tspan>-Drain Current (A)</text>
<text x="199.53" y="307" font-size="23" textLength="76.57" lengthAdjust="spacingAndGlyphs">Tj=25°C</text>
<text x="289" y="307" font-size="23" textLength="61.63" lengthAdjust="spacingAndGlyphs">VGS=</text>
<text x="355.24" y="307" font-size="23" textLength="41.17" lengthAdjust="spacingAndGlyphs">20V</text>
<text x="356.39" y="332" font-size="23" textLength="40.01" lengthAdjust="spacingAndGlyphs">18V</text>
<text x="356.39" y="359" font-size="23" textLength="40.01" lengthAdjust="spacingAndGlyphs">16V</text>
<text x="356.39" y="384" font-size="23" textLength="40.01" lengthAdjust="spacingAndGlyphs">14V</text>
<text x="356.39" y="410" font-size="23" textLength="40.01" lengthAdjust="spacingAndGlyphs">12V</text>
<text x="356.39" y="435" font-size="23" textLength="40.01" lengthAdjust="spacingAndGlyphs">10V</text>
<text x="411.94" y="474" font-size="23" textLength="26.95" lengthAdjust="spacingAndGlyphs">8V</text>
<text x="412.75" y="582" font-size="23" textLength="27.34" lengthAdjust="spacingAndGlyphs">7V</text>
<text x="413.88" y="682" font-size="23" textLength="27.02" lengthAdjust="spacingAndGlyphs">6V</text>
<rect x="854.5" y="258.5" width="708" height="511" fill="#fff" stroke="#c9c9c9" stroke-width="1"/>
<clipPath id="cp2"><rect x="946" y="272" width="589" height="419.5"/></clipPath>
<g stroke-width="1" shape-rendering="crispEdges" fill="none"><path d="M1142.5,272 V691.5" stroke="#101010"/><path d="M1338.5,272 V691.5" stroke="#101010"/><path d="M946,552.5 H1535" stroke="#101010"/><path d="M946,412.5 H1535" stroke="#101010"/><path d="M1043.5,272 V691.5" stroke="#bbbbbb"/><path d="M1240.5,272 V691.5" stroke="#bbbbbb"/><path d="M1437.5,272 V691.5" stroke="#bbbbbb"/><path d="M946,621.5 H1535" stroke="#bbbbbb"/><path d="M946,481.5 H1535" stroke="#bbbbbb"/><path d="M946,341.5 H1535" stroke="#bbbbbb"/></g>
<path d="M946,691.5 L947.53,691.45 L949.07,691.41 L950.6,691.35 L952.14,691.3 L953.67,691.24 L955.2,691.18 L956.74,691.11 L958.27,691.04 L959.8,690.97 L961.34,690.9 L962.87,690.82 L964.41,690.74 L965.94,690.66 L967.47,690.57 L969.01,690.48 L970.54,690.39 L972.08,690.3 L973.61,690.21 L975.14,690.11 L976.68,690.01 L978.21,689.91 L979.74,689.81 L981.28,689.7 L982.81,689.6 L984.35,689.49 L985.88,689.38 L987.41,689.27 L988.95,689.16 L990.48,689.05 L992.02,688.93 L993.55,688.82 L995.08,688.7 L996.62,688.59 L998.15,688.47 L999.68,688.35 L1001.22,688.23 L1002.75,688.1 L1004.29,687.97 L1005.82,687.84 L1007.35,687.71 L1008.89,687.58 L1010.42,687.44 L1011.96,687.3 L1013.49,687.15 L1015.02,687 L1016.56,686.85 L1018.09,686.69 L1019.62,686.53 L1021.16,686.36 L1022.69,686.19 L1024.23,686.01 L1025.76,685.83 L1027.29,685.64 L1028.83,685.44 L1030.36,685.24 L1031.9,685.03 L1033.43,684.82 L1034.96,684.6 L1036.5,684.37 L1038.03,684.13 L1039.57,683.89 L1041.1,683.64 L1042.63,683.38 L1044.17,683.11 L1045.61,682.84 L1047.05,682.53 L1048.5,682.18 L1049.94,681.81 L1051.38,681.41 L1052.83,680.99 L1054.27,680.54 L1055.72,680.07 L1057.16,679.58 L1058.6,679.07 L1060.05,678.56 L1061.49,678.02 L1062.93,677.48 L1064.38,676.94 L1065.82,676.39 L1067.26,675.83 L1068.71,675.28 L1070.07,674.75 L1071.44,674.2 L1072.8,673.63 L1074.16,673.05 L1075.53,672.44 L1076.89,671.83 L1078.25,671.2 L1079.62,670.55 L1080.98,669.9 L1082.34,669.23 L1083.71,668.55 L1085.07,667.86 L1086.43,667.16 L1087.8,666.45 L1089.16,665.73 L1090.52,665 L1091.89,664.27 L1093.25,663.53 L1094.54,662.83 L1095.83,662.1 L1097.12,661.37 L1098.42,660.62 L1099.71,659.86 L1101,659.08 L1102.29,658.3 L1103.58,657.5 L1104.88,656.7 L1106.17,655.88 L1107.46,655.05 L1108.75,654.22 L1110.04,653.37 L1111.33,652.52 L1112.62,651.66 L1113.92,650.79 L1115.21,649.92 L1116.5,649.04 L1117.79,648.15 L1119.02,647.3 L1120.25,646.45 L1121.47,645.59 L1122.7,644.72 L1123.93,643.84 L1125.15,642.95 L1126.38,642.06 L1127.61,641.16 L1128.84,640.24 L1130.06,639.32 L1131.29,638.38 L1132.52,637.44 L1133.74,636.48 L1134.97,635.51 L1136.2,634.53 L1137.42,633.53 L1138.65,632.52 L1139.88,631.5 L1141.11,630.47 L1142.33,629.41 L1143.4,628.48 L1144.47,627.53 L1145.53,626.56 L1146.6,625.56 L1147.67,624.56 L1148.74,623.53 L1149.8,622.49 L1150.87,621.44 L1151.94,620.38 L1153,619.3 L1154.07,618.22 L1155.14,617.13 L1156.2,616.04 L1157.27,614.94 L1158.34,613.84 L1159.41,612.73 L1160.47,611.63 L1161.54,610.53 L1162.61,609.43 L1163.67,608.33 L1164.74,607.24 L1165.81,606.16 L1166.88,605.08 L1167.94,604.01 L1169.01,602.94 L1170.08,601.87 L1171.14,600.8 L1172.21,599.73 L1173.28,598.66 L1174.34,597.58 L1175.41,596.51 L1176.48,595.44 L1177.55,594.36 L1178.61,593.28 L1179.68,592.2 L1180.75,591.12 L1181.81,590.04 L1182.88,588.95 L1183.95,587.87 L1185.01,586.78 L1186.08,585.69 L1187.15,584.59 L1188.22,583.5 L1189.28,582.4 L1190.35,581.3 L1191.42,580.19 L1192.48,579.08 L1193.55,577.97 L1194.62,576.84 L1195.68,575.71 L1196.75,574.58 L1197.82,573.44 L1198.89,572.3 L1199.95,571.15 L1201.02,570 L1202.09,568.86 L1203.15,567.71 L1204.22,566.56 L1205.29,565.41 L1206.36,564.27 L1207.42,563.12 L1208.49,561.99 L1209.56,560.85 L1210.62,559.72 L1211.69,558.6 L1212.76,557.48 L1213.82,556.38 L1214.89,555.28 L1215.96,554.18 L1217.07,553.04 L1218.19,551.9 L1219.3,550.74 L1220.42,549.59 L1221.54,548.43 L1222.65,547.27 L1223.77,546.11 L1224.88,544.96 L1226,543.81 L1227.11,542.66 L1228.23,541.53 L1229.34,540.41 L1230.46,539.29 L1231.58,538.2 L1232.69,537.12 L1233.81,536.05 L1234.92,535.01 L1236.04,533.98 L1237.15,532.98 L1238.27,532 L1239.38,531.05 L1240.5,530.13 L1241.79,529.09 L1243.08,528.06 L1244.38,527.04 L1245.67,526.04 L1246.96,525.06 L1248.25,524.09 L1249.54,523.13 L1250.83,522.2 L1252.12,521.28 L1253.42,520.37 L1254.71,519.49 L1256,518.62 L1257.29,517.77 L1258.58,516.94 L1259.87,516.12 L1261.17,515.33 L1262.46,514.56 L1263.75,513.8 L1265.04,513.07 L1266.41,512.3 L1267.77,511.52 L1269.13,510.74 L1270.5,509.95 L1271.86,509.17 L1273.22,508.4 L1274.59,507.64 L1275.95,506.9 L1277.31,506.19 L1278.68,505.5 L1280.04,504.85 L1281.4,504.23 L1282.77,503.66 L1284.13,503.13 L1285.49,502.66 L1286.86,502.24 L1288.22,501.89 L1289.58,501.61 L1291.12,501.33 L1292.65,501.08 L1294.18,500.84 L1295.72,500.61 L1297.25,500.4 L1298.79,500.2 L1300.32,500.02 L1301.85,499.85 L1303.39,499.68 L1304.92,499.53 L1306.46,499.39 L1307.99,499.26 L1309.52,499.14 L1311.06,499.02 L1312.59,498.91 L1314.12,498.81 L1315.66,498.71 L1317.19,498.62 L1318.73,498.53 L1320.26,498.45 L1321.79,498.37 L1323.33,498.3 L1324.86,498.23 L1326.4,498.16 L1327.93,498.1 L1329.46,498.04 L1331,497.98 L1332.53,497.92 L1334.07,497.86 L1335.6,497.8 L1337.13,497.75 L1338.67,497.69 L1340.18,497.64 L1341.69,497.58 L1343.2,497.53 L1344.71,497.47 L1346.22,497.42 L1347.73,497.36 L1349.24,497.31 L1350.75,497.26 L1352.26,497.2 L1353.77,497.15 L1355.28,497.1 L1356.79,497.05 L1358.3,497 L1359.81,496.95 L1361.32,496.9 L1362.83,496.85 L1364.34,496.8 L1365.85,496.75 L1367.36,496.7 L1368.87,496.65 L1370.38,496.6 L1371.89,496.55 L1373.4,496.51 L1374.91,496.46 L1376.42,496.41 L1377.93,496.37 L1379.44,496.32 L1380.95,496.27 L1382.46,496.23 L1383.97,496.18 L1385.48,496.14 L1386.99,496.1 L1388.51,496.05 L1390.02,496.01 L1391.53,495.97 L1393.04,495.92 L1394.55,495.88 L1396.06,495.84 L1397.57,495.8 L1399.08,495.76 L1400.59,495.72 L1402.1,495.68 L1403.61,495.64 L1405.12,495.6 L1406.63,495.56 L1408.14,495.53 L1409.65,495.49 L1411.16,495.45 L1412.67,495.42 L1414.18,495.38 L1415.69,495.34 L1417.2,495.31 L1418.71,495.27 L1420.22,495.24 L1421.73,495.21 L1423.24,495.17 L1424.75,495.14 L1426.26,495.11 L1427.77,495.08 L1429.28,495.04 L1430.79,495.01 L1432.3,494.98 L1433.81,494.95 L1435.32,494.92 L1436.83,494.89 L1438.34,494.87 L1439.85,494.84 L1441.36,494.81 L1442.87,494.78 L1444.38,494.75 L1445.89,494.72 L1447.41,494.7 L1448.92,494.67 L1450.43,494.64 L1451.94,494.61 L1453.45,494.59 L1454.96,494.56 L1456.47,494.53 L1457.98,494.51 L1459.49,494.48 L1461,494.45 L1462.51,494.43 L1464.02,494.4 L1465.53,494.38 L1467.04,494.35 L1468.55,494.32 L1470.06,494.3 L1471.57,494.27 L1473.08,494.25 L1474.59,494.22 L1476.1,494.2 L1477.61,494.18 L1479.12,494.15 L1480.63,494.13 L1482.14,494.11 L1483.65,494.08 L1485.16,494.06 L1486.67,494.04 L1488.18,494.02 L1489.69,493.99 L1491.2,493.97 L1492.71,493.95 L1494.22,493.93 L1495.73,493.91 L1497.24,493.89 L1498.75,493.87 L1500.26,493.85 L1501.77,493.83 L1503.28,493.81 L1504.79,493.79 L1506.31,493.77 L1507.82,493.76 L1509.33,493.74 L1510.84,493.72 L1512.35,493.7 L1513.86,493.69 L1515.37,493.67 L1516.88,493.66 L1518.39,493.64 L1519.9,493.62 L1521.41,493.61 L1522.92,493.6 L1524.43,493.58 L1525.94,493.57 L1527.45,493.56 L1528.96,493.54 L1530.47,493.53 L1531.98,493.52 L1533.49,493.51 L1535,493.5" fill="none" stroke="#000" stroke-width="3.8" stroke-linejoin="round" stroke-linecap="butt" clip-path="url(#cp2)"/>
<path d="M1063.8,691.5 L1065.35,691.49 L1066.9,691.46 L1068.45,691.42 L1070,691.37 L1071.55,691.3 L1073.1,691.22 L1074.65,691.13 L1076.2,691.04 L1077.75,690.93 L1079.3,690.81 L1080.85,690.69 L1082.4,690.56 L1083.95,690.43 L1085.5,690.29 L1087.05,690.14 L1088.6,690 L1090.15,689.85 L1091.7,689.7 L1093.25,689.54 L1094.78,689.38 L1096.32,689.2 L1097.85,689 L1099.39,688.78 L1100.92,688.54 L1102.45,688.28 L1103.99,688.01 L1105.52,687.73 L1107.05,687.43 L1108.59,687.13 L1110.12,686.8 L1111.66,686.47 L1113.19,686.13 L1114.72,685.79 L1116.26,685.43 L1117.79,685.07 L1119.24,684.72 L1120.68,684.35 L1122.12,683.96 L1123.57,683.56 L1125.01,683.13 L1126.45,682.69 L1127.9,682.24 L1129.34,681.76 L1130.78,681.27 L1132.23,680.76 L1133.67,680.23 L1135.12,679.68 L1136.56,679.12 L1138,678.54 L1139.45,677.93 L1140.89,677.32 L1142.33,676.68 L1143.62,676.08 L1144.92,675.44 L1146.21,674.77 L1147.5,674.06 L1148.79,673.32 L1150.08,672.55 L1151.38,671.75 L1152.67,670.93 L1153.96,670.08 L1155.25,669.21 L1156.54,668.32 L1157.83,667.41 L1159.12,666.49 L1160.42,665.55 L1161.71,664.6 L1163,663.65 L1164.29,662.68 L1165.58,661.71 L1166.88,660.74 L1167.99,659.89 L1169.11,659.02 L1170.22,658.14 L1171.34,657.24 L1172.45,656.33 L1173.57,655.4 L1174.68,654.46 L1175.8,653.5 L1176.91,652.53 L1178.03,651.54 L1179.15,650.54 L1180.26,649.52 L1181.38,648.5 L1182.49,647.45 L1183.61,646.4 L1184.72,645.33 L1185.84,644.24 L1186.95,643.15 L1188.07,642.04 L1189.19,640.92 L1190.3,639.79 L1191.42,638.64 L1192.4,637.62 L1193.38,636.59 L1194.36,635.53 L1195.34,634.47 L1196.33,633.39 L1197.31,632.29 L1198.29,631.18 L1199.27,630.05 L1200.25,628.91 L1201.23,627.76 L1202.21,626.59 L1203.2,625.42 L1204.18,624.22 L1205.16,623.02 L1206.14,621.8 L1207.12,620.57 L1208.11,619.33 L1209.09,618.08 L1210.07,616.81 L1211.05,615.54 L1212.03,614.25 L1213.01,612.95 L1213.99,611.64 L1214.98,610.33 L1215.96,609 L1216.78,607.88 L1217.59,606.75 L1218.41,605.6 L1219.23,604.44 L1220.05,603.27 L1220.87,602.08 L1221.68,600.88 L1222.5,599.67 L1223.32,598.45 L1224.14,597.21 L1224.96,595.97 L1225.77,594.71 L1226.59,593.45 L1227.41,592.18 L1228.23,590.9 L1229.05,589.61 L1229.87,588.31 L1230.68,587.01 L1231.5,585.69 L1232.32,584.38 L1233.14,583.05 L1233.96,581.73 L1234.77,580.39 L1235.59,579.05 L1236.41,577.71 L1237.23,576.37 L1238.05,575.02 L1238.86,573.67 L1239.68,572.32 L1240.5,570.96 L1241.24,569.73 L1241.99,568.48 L1242.73,567.22 L1243.47,565.95 L1244.22,564.67 L1244.96,563.39 L1245.71,562.09 L1246.45,560.79 L1247.19,559.48 L1247.94,558.16 L1248.68,556.84 L1249.42,555.52 L1250.17,554.18 L1250.91,552.85 L1251.66,551.51 L1252.4,550.16 L1253.14,548.81 L1253.89,547.47 L1254.63,546.11 L1255.37,544.76 L1256.12,543.41 L1256.86,542.06 L1257.6,540.71 L1258.35,539.36 L1259.09,538.01 L1259.84,536.66 L1260.58,535.31 L1261.32,533.97 L1262.07,532.64 L1262.81,531.3 L1263.55,529.98 L1264.3,528.65 L1265.04,527.34 L1265.79,526.02 L1266.53,524.71 L1267.27,523.4 L1268.02,522.09 L1268.76,520.78 L1269.5,519.47 L1270.25,518.16 L1270.99,516.85 L1271.73,515.54 L1272.48,514.23 L1273.22,512.93 L1273.97,511.62 L1274.71,510.32 L1275.45,509.01 L1276.2,507.71 L1276.94,506.4 L1277.68,505.1 L1278.43,503.79 L1279.17,502.49 L1279.92,501.19 L1280.66,499.88 L1281.4,498.58 L1282.15,497.28 L1282.89,495.98 L1283.63,494.68 L1284.38,493.37 L1285.12,492.07 L1285.86,490.77 L1286.61,489.47 L1287.35,488.17 L1288.1,486.87 L1288.84,485.57 L1289.58,484.27 L1290.35,482.92 L1291.12,481.58 L1291.88,480.23 L1292.65,478.87 L1293.42,477.52 L1294.18,476.16 L1294.95,474.8 L1295.72,473.44 L1296.49,472.08 L1297.25,470.72 L1298.02,469.35 L1298.79,467.99 L1299.55,466.63 L1300.32,465.27 L1301.09,463.92 L1301.85,462.56 L1302.62,461.21 L1303.39,459.86 L1304.15,458.51 L1304.92,457.17 L1305.69,455.83 L1306.46,454.49 L1307.22,453.16 L1307.99,451.84 L1308.76,450.52 L1309.52,449.2 L1310.29,447.9 L1311.06,446.6 L1311.82,445.31 L1312.59,444.02 L1313.36,442.75 L1314.12,441.48 L1314.94,440.13 L1315.76,438.77 L1316.58,437.41 L1317.4,436.05 L1318.22,434.69 L1319.03,433.32 L1319.85,431.96 L1320.67,430.6 L1321.49,429.24 L1322.31,427.88 L1323.12,426.53 L1323.94,425.18 L1324.76,423.84 L1325.58,422.51 L1326.4,421.19 L1327.21,419.88 L1328.03,418.58 L1328.85,417.29 L1329.67,416.01 L1330.49,414.75 L1331.3,413.51 L1332.12,412.28 L1332.94,411.06 L1333.76,409.87 L1334.58,408.7 L1335.39,407.55 L1336.21,406.41 L1337.03,405.31 L1337.85,404.22 L1338.67,403.16 L1339.69,401.86 L1340.71,400.57 L1341.73,399.3 L1342.76,398.04 L1343.78,396.79 L1344.8,395.56 L1345.82,394.35 L1346.85,393.15 L1347.87,391.97 L1348.89,390.8 L1349.91,389.66 L1350.94,388.53 L1351.96,387.42 L1352.98,386.33 L1354.01,385.26 L1355.03,384.21 L1356.05,383.18 L1357.07,382.17 L1358.1,381.18 L1359.12,380.22 L1360.14,379.28 L1361.16,378.36 L1362.19,377.46 L1363.21,376.6 L1364.5,375.51 L1365.79,374.44 L1367.08,373.36 L1368.38,372.3 L1369.67,371.26 L1370.96,370.23 L1372.25,369.22 L1373.54,368.23 L1374.83,367.27 L1376.12,366.33 L1377.42,365.44 L1378.71,364.57 L1380,363.75 L1381.29,362.97 L1382.58,362.23 L1383.88,361.55 L1385.17,360.91 L1386.46,360.34 L1387.75,359.82 L1389.28,359.24 L1390.82,358.67 L1392.35,358.13 L1393.89,357.59 L1395.42,357.08 L1396.95,356.59 L1398.49,356.12 L1400.02,355.67 L1401.55,355.26 L1403.09,354.88 L1404.62,354.53 L1406.16,354.22 L1407.69,353.95 L1409.22,353.71 L1410.76,353.53 L1412.29,353.38 L1413.83,353.27 L1415.36,353.16 L1416.89,353.06 L1418.43,352.97 L1419.96,352.89 L1421.49,352.81 L1423.03,352.74 L1424.56,352.68 L1426.1,352.62 L1427.63,352.56 L1429.16,352.5 L1430.7,352.45 L1432.23,352.4 L1433.77,352.36 L1435.3,352.31 L1436.83,352.26 L1438.34,352.22 L1439.85,352.17 L1441.36,352.13 L1442.87,352.08 L1444.38,352.04 L1445.89,351.99 L1447.41,351.95 L1448.92,351.9 L1450.43,351.86 L1451.94,351.81 L1453.45,351.77 L1454.96,351.73 L1456.47,351.68 L1457.98,351.64 L1459.49,351.6 L1461,351.55 L1462.51,351.51 L1464.02,351.47 L1465.53,351.43 L1467.04,351.39 L1468.55,351.35 L1470.06,351.31 L1471.57,351.27 L1473.08,351.23 L1474.59,351.19 L1476.1,351.15 L1477.61,351.11 L1479.12,351.08 L1480.63,351.04 L1482.14,351 L1483.65,350.97 L1485.16,350.93 L1486.67,350.9 L1488.18,350.87 L1489.69,350.83 L1491.2,350.8 L1492.71,350.77 L1494.22,350.74 L1495.73,350.71 L1497.24,350.68 L1498.75,350.66 L1500.26,350.63 L1501.77,350.6 L1503.28,350.58 L1504.79,350.55 L1506.31,350.53 L1507.82,350.51 L1509.33,350.49 L1510.84,350.47 L1512.35,350.45 L1513.86,350.43 L1515.37,350.42 L1516.88,350.4 L1518.39,350.39 L1519.9,350.37 L1521.41,350.36 L1522.92,350.35 L1524.43,350.34 L1525.94,350.33 L1527.45,350.32 L1528.96,350.32 L1530.47,350.31 L1531.98,350.31 L1533.49,350.31 L1535,350.31" fill="none" stroke="#000" stroke-width="3.8" stroke-linejoin="round" stroke-linecap="butt" clip-path="url(#cp2)"/>
<path d="M944,270 H1537 V693 H944 Z M948,274 V690 H1533 V274 Z" fill="#000" fill-rule="evenodd" shape-rendering="crispEdges"/>
<text x="940.69" y="723" font-size="20" textLength="10.73" lengthAdjust="spacingAndGlyphs">4</text>
<text x="1136.9" y="723" font-size="20" textLength="10.73" lengthAdjust="spacingAndGlyphs">6</text>
<text x="1333.3" y="723" font-size="20" textLength="10.73" lengthAdjust="spacingAndGlyphs">8</text>
<text x="1523.91" y="723" font-size="20" textLength="21.47" lengthAdjust="spacingAndGlyphs">10</text>
<text x="917.92" y="698" font-size="20" textLength="10.73" lengthAdjust="spacingAndGlyphs">0</text>
<text x="907.19" y="558" font-size="20" textLength="21.47" lengthAdjust="spacingAndGlyphs">50</text>
<text x="896.45" y="418" font-size="20" textLength="32.2" lengthAdjust="spacingAndGlyphs">100</text>
<text x="896.45" y="278" font-size="20" textLength="32.2" lengthAdjust="spacingAndGlyphs">150</text>
<text x="1075.05" y="755" font-size="23" textLength="315.23" lengthAdjust="spacingAndGlyphs"><tspan font-weight="bold">Vgs</tspan>-Gate to Source Voltage (V)</text>
<text transform="translate(881.3,588.08) rotate(-90)" font-size="23" textLength="198.46" lengthAdjust="spacingAndGlyphs"><tspan font-weight="bold">ID</tspan>-Drain Current (A)</text>
<text x="959.2" y="307" font-size="23" textLength="99.4" lengthAdjust="spacingAndGlyphs">VDS=20V</text>
<text x="1407.04" y="377.3" font-size="23" textLength="74.74" lengthAdjust="spacingAndGlyphs">Tj=25°C</text>
<text x="1404.23" y="521.4" font-size="23" textLength="87.66" lengthAdjust="spacingAndGlyphs">Tj=150°C</text>
<rect x="92.5" y="904.5" width="707" height="510" fill="#fff" stroke="#c9c9c9" stroke-width="1"/>
<clipPath id="cp3"><rect x="198.5" y="921" width="568.5" height="420"/></clipPath>
<g stroke-width="1" shape-rendering="crispEdges" fill="none"><path d="M293.5,921 V1341" stroke="#101010"/><path d="M388.5,921 V1341" stroke="#101010"/><path d="M482.5,921 V1341" stroke="#101010"/><path d="M577.5,921 V1341" stroke="#101010"/><path d="M672.5,921 V1341" stroke="#101010"/><path d="M198.5,1256.5 H767" stroke="#101010"/><path d="M198.5,1172.5 H767" stroke="#101010"/><path d="M198.5,1088.5 H767" stroke="#101010"/><path d="M198.5,1004.5 H767" stroke="#101010"/><path d="M245.5,921 V1341" stroke="#bbbbbb"/><path d="M340.5,921 V1341" stroke="#bbbbbb"/><path d="M435.5,921 V1341" stroke="#bbbbbb"/><path d="M530.5,921 V1341" stroke="#bbbbbb"/><path d="M624.5,921 V1341" stroke="#bbbbbb"/><path d="M719.5,921 V1341" stroke="#bbbbbb"/><path d="M198.5,1315.5 H767" stroke="#bbbbbb"/><path d="M198.5,1300.5 H767" stroke="#bbbbbb"/><path d="M198.5,1290.5 H767" stroke="#bbbbbb"/><path d="M198.5,1282.5 H767" stroke="#bbbbbb"/><path d="M198.5,1275.5 H767" stroke="#bbbbbb"/><path d="M198.5,1270.5 H767" stroke="#bbbbbb"/><path d="M198.5,1265.5 H767" stroke="#bbbbbb"/><path d="M198.5,1260.5 H767" stroke="#bbbbbb"/><path d="M198.5,1231.5 H767" stroke="#bbbbbb"/><path d="M198.5,1216.5 H767" stroke="#bbbbbb"/><path d="M198.5,1206.5 H767" stroke="#bbbbbb"/><path d="M198.5,1198.5 H767" stroke="#bbbbbb"/><path d="M198.5,1191.5 H767" stroke="#bbbbbb"/><path d="M198.5,1186.5 H767" stroke="#bbbbbb"/><path d="M198.5,1181.5 H767" stroke="#bbbbbb"/><path d="M198.5,1176.5 H767" stroke="#bbbbbb"/><path d="M198.5,1147.5 H767" stroke="#bbbbbb"/><path d="M198.5,1132.5 H767" stroke="#bbbbbb"/><path d="M198.5,1122.5 H767" stroke="#bbbbbb"/><path d="M198.5,1114.5 H767" stroke="#bbbbbb"/><path d="M198.5,1107.5 H767" stroke="#bbbbbb"/><path d="M198.5,1102.5 H767" stroke="#bbbbbb"/><path d="M198.5,1097.5 H767" stroke="#bbbbbb"/><path d="M198.5,1092.5 H767" stroke="#bbbbbb"/><path d="M198.5,1063.5 H767" stroke="#bbbbbb"/><path d="M198.5,1048.5 H767" stroke="#bbbbbb"/><path d="M198.5,1038.5 H767" stroke="#bbbbbb"/><path d="M198.5,1030.5 H767" stroke="#bbbbbb"/><path d="M198.5,1023.5 H767" stroke="#bbbbbb"/><path d="M198.5,1018.5 H767" stroke="#bbbbbb"/><path d="M198.5,1013.5 H767" stroke="#bbbbbb"/><path d="M198.5,1008.5 H767" stroke="#bbbbbb"/><path d="M198.5,979.5 H767" stroke="#bbbbbb"/><path d="M198.5,964.5 H767" stroke="#bbbbbb"/><path d="M198.5,954.5 H767" stroke="#bbbbbb"/><path d="M198.5,946.5 H767" stroke="#bbbbbb"/><path d="M198.5,939.5 H767" stroke="#bbbbbb"/><path d="M198.5,934.5 H767" stroke="#bbbbbb"/><path d="M198.5,929.5 H767" stroke="#bbbbbb"/><path d="M198.5,924.5 H767" stroke="#bbbbbb"/></g>
<path d="M198.5,1029.78 L199.21,1031.28 L199.92,1032.72 L200.77,1034.47 L201.63,1035.91 L202.8,1037.25 L203.96,1038.3 L205.13,1038.94 L207.03,1039.42 L208.92,1039.73 L210.82,1040.03 L212.48,1040.33 L214.13,1040.63 L215.79,1040.92 L217.45,1041.2 L219.11,1041.49 L220.77,1041.78 L222.42,1042.06 L224.08,1042.3 L225.98,1042.56 L227.87,1042.72 L229.58,1042.75 L231.28,1042.77 L232.99,1042.79 L234.69,1042.8 L236.4,1042.8 L237.94,1042.8 L239.47,1042.8 L241.01,1042.8 L242.55,1042.8 L244.08,1042.8 L245.62,1042.8 L247.16,1042.8 L248.69,1042.8 L250.23,1042.8 L251.76,1042.8 L253.3,1042.8 L254.84,1042.8 L256.37,1042.8 L257.91,1042.8 L259.45,1042.8 L260.98,1042.8 L262.52,1042.8 L264.06,1042.8 L265.59,1042.8 L267.13,1042.8 L268.67,1042.8 L270.2,1042.8 L271.74,1042.8 L273.28,1042.8 L274.81,1042.8 L276.35,1042.8 L277.89,1042.8 L279.42,1042.8 L280.96,1042.8 L282.49,1042.8 L284.03,1042.8 L285.57,1042.8 L287.1,1042.8 L288.64,1042.8 L290.18,1042.8 L291.71,1042.8 L293.25,1042.8 L294.75,1042.8 L296.26,1042.8 L297.76,1042.8 L299.27,1042.8 L300.77,1042.8 L302.27,1042.8 L303.78,1042.8 L305.28,1042.8 L306.79,1042.8 L308.29,1042.8 L309.79,1042.8 L311.3,1042.8 L312.8,1042.8 L314.31,1042.8 L315.81,1042.8 L317.31,1042.8 L318.82,1042.8 L320.32,1042.8 L321.83,1042.8 L323.33,1042.8 L324.83,1042.8 L326.34,1042.8 L327.84,1042.8 L329.35,1042.8 L330.85,1042.8 L332.35,1042.8 L333.86,1042.8 L335.36,1042.8 L336.87,1042.8 L338.37,1042.8 L339.87,1042.8 L341.38,1042.8 L342.88,1042.8 L344.38,1042.8 L345.89,1042.8 L347.39,1042.8 L348.9,1042.8 L350.4,1042.8 L351.9,1042.8 L353.41,1042.8 L354.91,1042.8 L356.42,1042.8 L357.92,1042.8 L359.42,1042.8 L360.93,1042.8 L362.43,1042.8 L363.94,1042.8 L365.44,1042.8 L366.94,1042.8 L368.45,1042.8 L369.95,1042.8 L371.46,1042.8 L372.96,1042.8 L374.46,1042.8 L375.97,1042.8 L377.47,1042.8 L378.98,1042.8 L380.48,1042.8 L381.98,1042.8 L383.49,1042.8 L384.99,1042.8 L386.5,1042.8 L388,1042.8 L389.5,1042.8 L391.01,1042.8 L392.51,1042.8 L394.02,1042.8 L395.52,1042.8 L397.02,1042.8 L398.53,1042.8 L400.03,1042.8 L401.54,1042.8 L403.04,1042.8 L404.54,1042.8 L406.05,1042.8 L407.55,1042.8 L409.06,1042.8 L410.56,1042.8 L412.06,1042.8 L413.57,1042.8 L415.07,1042.8 L416.58,1042.8 L418.08,1042.8 L419.58,1042.8 L421.09,1042.8 L422.59,1042.8 L424.1,1042.8 L425.6,1042.8 L427.1,1042.8 L428.61,1042.8 L430.11,1042.8 L431.62,1042.8 L433.12,1042.8 L434.62,1042.8 L436.13,1042.8 L437.63,1042.8 L439.13,1042.8 L440.64,1042.8 L442.14,1042.8 L443.65,1042.8 L445.15,1042.8 L446.65,1042.8 L448.16,1042.8 L449.66,1042.8 L451.17,1042.8 L452.67,1042.8 L454.17,1042.8 L455.68,1042.8 L457.18,1042.8 L458.69,1042.8 L460.19,1042.8 L461.69,1042.8 L463.2,1042.8 L464.7,1042.8 L466.21,1042.8 L467.71,1042.8 L469.21,1042.8 L470.72,1042.8 L472.22,1042.8 L473.73,1042.8 L475.23,1042.8 L476.73,1042.8 L478.24,1042.8 L479.74,1042.8 L481.25,1042.8 L482.75,1042.8 L484.25,1042.8 L485.76,1042.8 L487.26,1042.8 L488.77,1042.8 L490.27,1042.8 L491.77,1042.8 L493.28,1042.8 L494.78,1042.8 L496.29,1042.8 L497.79,1042.8 L499.29,1042.8 L500.8,1042.8 L502.3,1042.8 L503.81,1042.8 L505.31,1042.8 L506.81,1042.8 L508.32,1042.8 L509.82,1042.8 L511.33,1042.8 L512.83,1042.8 L514.33,1042.8 L515.84,1042.8 L517.34,1042.8 L518.85,1042.8 L520.35,1042.8 L521.85,1042.8 L523.36,1042.8 L524.86,1042.8 L526.37,1042.8 L527.87,1042.8 L529.37,1042.8 L530.88,1042.8 L532.38,1042.8 L533.88,1042.8 L535.39,1042.8 L536.89,1042.8 L538.4,1042.8 L539.9,1042.8 L541.4,1042.8 L542.91,1042.8 L544.41,1042.8 L545.92,1042.8 L547.42,1042.8 L548.92,1042.8 L550.43,1042.8 L551.93,1042.8 L553.44,1042.8 L554.94,1042.8 L556.44,1042.8 L557.95,1042.8 L559.45,1042.8 L560.96,1042.8 L562.46,1042.8 L563.96,1042.8 L565.47,1042.8 L566.97,1042.8 L568.48,1042.8 L569.98,1042.8 L571.48,1042.8 L572.99,1042.8 L574.49,1042.8 L576,1042.8 L577.5,1042.8 L579,1042.8 L580.51,1042.8 L582.01,1042.8 L583.52,1042.8 L585.02,1042.8 L586.52,1042.8 L588.03,1042.8 L589.53,1042.8 L591.04,1042.8 L592.54,1042.8 L594.04,1042.8 L595.55,1042.8 L597.05,1042.8 L598.56,1042.8 L600.06,1042.8 L601.56,1042.8 L603.07,1042.8 L604.57,1042.8 L606.08,1042.8 L607.58,1042.8 L609.08,1042.8 L610.59,1042.8 L612.09,1042.8 L613.6,1042.8 L615.1,1042.8 L616.6,1042.8 L618.11,1042.8 L619.61,1042.8 L621.12,1042.8 L622.62,1042.8 L624.12,1042.8 L625.63,1042.8 L627.13,1042.8 L628.63,1042.8 L630.14,1042.8 L631.64,1042.8 L633.15,1042.8 L634.65,1042.8 L636.15,1042.8 L637.66,1042.8 L639.16,1042.8 L640.67,1042.8 L642.17,1042.8 L643.67,1042.8 L645.18,1042.8 L646.68,1042.8 L648.19,1042.8 L649.69,1042.8 L651.19,1042.8 L652.7,1042.8 L654.2,1042.8 L655.71,1042.8 L657.21,1042.8 L658.71,1042.8 L660.22,1042.8 L661.72,1042.8 L663.23,1042.8 L664.73,1042.8 L666.23,1042.8 L667.74,1042.8 L669.24,1042.8 L670.75,1042.8 L672.25,1042.8 L673.75,1042.8 L675.26,1042.8 L676.76,1042.8 L678.27,1042.8 L679.77,1042.8 L681.27,1042.8 L682.78,1042.8 L684.28,1042.8 L685.79,1042.8 L687.29,1042.8 L688.79,1042.8 L690.3,1042.8 L691.8,1042.8 L693.31,1042.8 L694.81,1042.8 L696.31,1042.8 L697.82,1042.8 L699.32,1042.8 L700.83,1042.8 L702.33,1042.8 L703.83,1042.8 L705.34,1042.8 L706.84,1042.8 L708.35,1042.8 L709.85,1042.8 L711.35,1042.8 L712.86,1042.8 L714.36,1042.8 L715.87,1042.8 L717.37,1042.8 L718.87,1042.8 L720.38,1042.8 L721.88,1042.8 L723.38,1042.8 L724.89,1042.8 L726.39,1042.8 L727.9,1042.8 L729.4,1042.8 L730.9,1042.8 L732.41,1042.8 L733.91,1042.8 L735.42,1042.8 L736.92,1042.8 L738.42,1042.8 L739.93,1042.8 L741.43,1042.8 L742.94,1042.8 L744.44,1042.8 L745.94,1042.8 L747.45,1042.8 L748.95,1042.8 L750.46,1042.8 L751.96,1042.8 L753.46,1042.8 L754.97,1042.8 L756.47,1042.8 L757.98,1042.8 L759.48,1042.8 L760.98,1042.8 L762.49,1042.8 L763.99,1042.8 L765.5,1042.8 L767,1042.8" fill="none" stroke="#000" stroke-width="3.7" stroke-linejoin="round" stroke-linecap="butt" clip-path="url(#cp3)"/>
<path d="M198.5,964.18 L198.68,966 L198.86,967.78 L199.03,969.51 L199.21,971.18 L199.39,972.81 L199.57,974.36 L199.74,975.86 L199.92,977.28 L200.16,979.12 L200.41,980.85 L200.65,982.49 L200.9,984.08 L201.14,985.62 L201.38,987.16 L201.63,988.7 L201.88,990.42 L202.14,992.24 L202.4,994.06 L202.66,995.8 L202.91,997.38 L203.17,998.71 L203.43,999.71 L204.21,1001.81 L204.99,1003.39 L205.77,1004.66 L206.55,1005.84 L207.54,1007.26 L208.52,1008.51 L209.51,1009.67 L210.5,1010.8 L211.48,1011.97 L212.58,1013.27 L213.68,1014.5 L214.78,1015.76 L215.88,1017.15 L216.98,1018.78 L217.72,1020.07 L218.45,1021.56 L219.19,1023.2 L219.93,1024.98 L220.67,1026.84 L221.19,1028.23 L221.71,1029.71 L222.23,1031.28 L222.76,1032.94 L223.28,1034.68 L223.8,1036.5 L224.16,1037.78 L224.52,1039.1 L224.88,1040.52 L225.24,1042.09 L225.6,1043.89 L225.82,1045.16 L226.04,1046.59 L226.26,1048.17 L226.48,1049.9 L226.7,1051.75 L226.93,1053.72 L227.06,1055 L227.2,1056.35 L227.34,1057.78 L227.47,1059.29 L227.61,1060.89 L227.75,1062.59 L227.88,1064.41 L228.02,1066.35 L228.16,1068.42 L228.23,1069.6 L228.3,1070.91 L228.37,1072.32 L228.44,1073.82 L228.51,1075.4 L228.58,1077.02 L228.65,1078.68 L228.73,1080.35 L228.8,1082.02 L228.87,1083.66 L228.94,1085.27 L229.01,1086.82 L229.08,1088.39 L229.16,1090 L229.23,1091.64 L229.3,1093.29 L229.37,1094.94 L229.45,1096.58 L229.52,1098.19 L229.59,1099.77 L229.67,1101.3 L229.74,1102.76 L229.81,1104.15 L229.88,1105.44 L229.96,1106.64 L230.08,1108.56 L230.2,1110.43 L230.33,1112.25 L230.45,1114 L230.57,1115.65 L230.7,1117.18 L230.82,1118.58 L230.94,1119.82 L231.07,1120.89 L231.19,1121.76 L231.57,1123.92 L231.95,1125.69 L232.33,1127.14 L232.7,1128.33 L233.08,1129.32 L234,1131.3 L234.92,1132.91 L235.83,1134.26 L236.75,1135.46 L237.66,1136.63 L238.58,1137.89 L239.48,1139.19 L240.38,1140.46 L241.28,1141.71 L242.18,1142.93 L243.08,1144.12 L243.98,1145.28" fill="none" stroke="#000" stroke-width="3.7" stroke-linejoin="round" stroke-linecap="butt" clip-path="url(#cp3)"/>
<path d="M243.98,1145.28 L245.4,1145.95 L250.9,1145.95 L254.59,1149.98 L260.75,1149.98 L264.45,1153.34 L270.7,1153.34 L274.3,1156.2 L281.88,1156.2 L284.25,1157.88 L293.72,1159.56 L315.99,1162 L340.62,1164.85 L365.26,1166.53 L388,1167.29 L482.75,1170.56 L577.5,1172.24 L672.25,1173.67 L767,1174.01" fill="none" stroke="#000" stroke-width="3.7" stroke-linejoin="round" stroke-linecap="butt" clip-path="url(#cp3)"/>
<path d="M198.5,1065.98 L198.61,1067.71 L198.71,1069.41 L198.82,1071.09 L198.92,1072.74 L199.03,1074.36 L199.13,1075.96 L199.24,1077.54 L199.34,1079.08 L199.45,1080.6 L199.57,1082.3 L199.68,1084 L199.8,1085.68 L199.92,1087.32 L200.04,1088.91 L200.16,1090.44 L200.28,1091.87 L200.4,1093.2 L200.57,1095.05 L200.75,1096.8 L200.92,1098.47 L201.1,1100.04 L201.27,1101.51 L201.45,1102.87 L201.63,1104.12 L201.93,1106.09 L202.23,1107.93 L202.53,1109.62 L202.83,1111.17 L203.13,1112.55 L203.43,1113.78 L203.95,1115.66 L204.47,1117.36 L204.99,1118.89 L205.51,1120.27 L206.03,1121.5 L206.55,1122.6 L207.54,1124.46 L208.52,1126.11 L209.51,1127.57 L210.5,1128.85 L211.48,1129.99 L212.71,1131.1 L213.94,1131.97 L215.18,1132.9 L216.41,1134.19 L217.31,1135.67 L218.21,1137.89 L218.52,1139.05 L218.84,1140.6 L219.16,1142.39 L219.47,1144.28 L219.79,1146.13 L220.1,1147.8 L220.45,1149.49 L220.81,1151.16 L221.16,1152.79 L221.51,1154.38 L221.86,1155.93 L222.21,1157.43 L222.57,1158.89 L223,1160.55 L223.43,1162.05 L223.87,1163.48 L224.3,1164.92 L224.73,1166.44 L225.17,1168.13 L225.6,1170.06 L225.84,1171.24 L226.07,1172.5 L226.31,1173.86 L226.55,1175.33 L226.78,1176.9 L227.02,1178.6 L227.26,1180.43 L227.49,1182.41 L227.63,1183.68 L227.77,1185.12 L227.9,1186.7 L228.04,1188.38 L228.18,1190.13 L228.31,1191.92 L228.45,1193.73 L228.59,1195.53 L228.73,1197.28 L228.85,1198.83 L228.97,1200.41 L229.09,1202 L229.22,1203.61 L229.34,1205.22 L229.46,1206.84 L229.59,1208.47 L229.71,1210.09 L229.83,1211.71 L229.96,1213.32 L230.08,1214.92 L230.19,1216.59 L230.31,1218.3 L230.43,1219.99 L230.55,1221.62 L230.67,1223.14 L230.79,1224.5 L230.9,1225.67 L231.15,1227.79 L231.4,1229.73 L231.64,1231.43 L231.89,1232.79 L232.14,1233.73" fill="none" stroke="#000" stroke-width="3.7" stroke-linejoin="round" stroke-linecap="butt" clip-path="url(#cp3)"/>
<path d="M232.14,1233.73 L233.56,1230.96 L235.45,1228.19 L239.81,1226.34 L249.66,1224.74 L253.45,1226.68 L266.72,1227.94 L281.88,1230.37 L293.72,1230.88 L315.99,1231.38 L340.62,1231.13 L388,1229.95 L482.75,1227.68 L577.5,1225.16 L672.25,1221.72 L767,1219.28" fill="none" stroke="#000" stroke-width="3.7" stroke-linejoin="round" stroke-linecap="butt" clip-path="url(#cp3)"/>
<path d="M197,919 H769 V1343 H197 Z M200,923 V1339 H765 V923 Z" fill="#000" fill-rule="evenodd" shape-rendering="crispEdges"/>
<text x="193.13" y="1371" font-size="20" textLength="10.73" lengthAdjust="spacingAndGlyphs">0</text>
<text x="276.79" y="1371" font-size="20" textLength="32.2" lengthAdjust="spacingAndGlyphs">100</text>
<text x="371.79" y="1371" font-size="20" textLength="32.2" lengthAdjust="spacingAndGlyphs">200</text>
<text x="466.66" y="1371" font-size="20" textLength="32.2" lengthAdjust="spacingAndGlyphs">300</text>
<text x="561.55" y="1371" font-size="20" textLength="32.2" lengthAdjust="spacingAndGlyphs">400</text>
<text x="656.14" y="1371" font-size="20" textLength="32.2" lengthAdjust="spacingAndGlyphs">500</text>
<text x="750.79" y="1371" font-size="20" textLength="32.2" lengthAdjust="spacingAndGlyphs">600</text>
<text x="170.81" y="1347" font-size="20" textLength="10.73" lengthAdjust="spacingAndGlyphs">1</text>
<text x="159.89" y="1263" font-size="20" textLength="21.47" lengthAdjust="spacingAndGlyphs">10</text>
<text x="149.15" y="1179" font-size="20" textLength="32.2" lengthAdjust="spacingAndGlyphs">100</text>
<text x="138.42" y="1095" font-size="20" textLength="42.93" lengthAdjust="spacingAndGlyphs">1000</text>
<text x="127.69" y="1011" font-size="20" textLength="53.67" lengthAdjust="spacingAndGlyphs">10000</text>
<text x="116.95" y="927" font-size="20" textLength="64.4" lengthAdjust="spacingAndGlyphs">100000</text>
<text x="313.85" y="1406" font-size="23" textLength="327.14" lengthAdjust="spacingAndGlyphs"><tspan font-weight="bold">VDS</tspan>-Drain to Source Voltage (V)</text>
<text transform="translate(120.9,1244.91) rotate(-90)" font-size="23" textLength="192.88" lengthAdjust="spacingAndGlyphs"><tspan font-weight="bold">C</tspan>-Capacitance (pF)</text>
<text x="482.85" y="1034.5" font-size="23" textLength="44.17" lengthAdjust="spacingAndGlyphs">Ciss</text>
<text x="481.86" y="1162.4" font-size="23" textLength="51.15" lengthAdjust="spacingAndGlyphs">Coss</text>
<text x="481.83" y="1224.7" font-size="23" textLength="47.51" lengthAdjust="spacingAndGlyphs">Crss</text>
<text x="203.53" y="1331" font-size="23" textLength="76.37" lengthAdjust="spacingAndGlyphs">Tj=25°C</text>
<rect x="853.5" y="904.5" width="707" height="510" fill="#fff" stroke="#c9c9c9" stroke-width="1"/>
<clipPath id="cp4"><rect x="936" y="921" width="596.5" height="422.5"/></clipPath>
<g stroke-width="1" shape-rendering="crispEdges" fill="none"><path d="M1085.5,921 V1343.5" stroke="#101010"/><path d="M1234.5,921 V1343.5" stroke="#101010"/><path d="M1383.5,921 V1343.5" stroke="#101010"/><path d="M936,1258.5 H1532.5" stroke="#101010"/><path d="M936,1174.5 H1532.5" stroke="#101010"/><path d="M936,1090.5 H1532.5" stroke="#101010"/><path d="M936,1005.5 H1532.5" stroke="#101010"/><path d="M1010.5,921 V1343.5" stroke="#bbbbbb"/><path d="M1159.5,921 V1343.5" stroke="#bbbbbb"/><path d="M1308.5,921 V1343.5" stroke="#bbbbbb"/><path d="M1457.5,921 V1343.5" stroke="#bbbbbb"/><path d="M936,1301.5 H1532.5" stroke="#bbbbbb"/><path d="M936,1216.5 H1532.5" stroke="#bbbbbb"/><path d="M936,1132.5 H1532.5" stroke="#bbbbbb"/><path d="M936,1047.5 H1532.5" stroke="#bbbbbb"/><path d="M936,963.5 H1532.5" stroke="#bbbbbb"/></g>
<path d="M936,1343.5 L1098.55,1062.79 L1318.95,1062.79 L1459.43,918.89" fill="none" stroke="#000" stroke-width="3.6" stroke-linejoin="miter" stroke-linecap="butt" clip-path="url(#cp4)"/>
<path d="M934,919 H1534 V1345 H934 Z M938,923 V1342 H1531 V923 Z" fill="#000" fill-rule="evenodd" shape-rendering="crispEdges"/>
<text x="930.63" y="1373" font-size="20" textLength="10.73" lengthAdjust="spacingAndGlyphs">0</text>
<text x="1074.28" y="1373" font-size="20" textLength="21.47" lengthAdjust="spacingAndGlyphs">20</text>
<text x="1223.67" y="1373" font-size="20" textLength="21.47" lengthAdjust="spacingAndGlyphs">40</text>
<text x="1372.53" y="1373" font-size="20" textLength="21.47" lengthAdjust="spacingAndGlyphs">60</text>
<text x="1521.72" y="1373" font-size="20" textLength="21.47" lengthAdjust="spacingAndGlyphs">80</text>
<text x="908.32" y="1350" font-size="20" textLength="10.73" lengthAdjust="spacingAndGlyphs">0</text>
<text x="908.54" y="1265" font-size="20" textLength="10.73" lengthAdjust="spacingAndGlyphs">2</text>
<text x="908.13" y="1181" font-size="20" textLength="10.73" lengthAdjust="spacingAndGlyphs">4</text>
<text x="908.41" y="1096" font-size="20" textLength="10.73" lengthAdjust="spacingAndGlyphs">6</text>
<text x="908.4" y="1012" font-size="20" textLength="10.73" lengthAdjust="spacingAndGlyphs">8</text>
<text x="897.59" y="927" font-size="20" textLength="21.47" lengthAdjust="spacingAndGlyphs">10</text>
<text x="1076.19" y="1407" font-size="23" textLength="271.2" lengthAdjust="spacingAndGlyphs"><tspan font-weight="bold">Qg</tspan>-Total Gate Charge (nC)</text>
<text transform="translate(886.4,1301.15) rotate(-90)" font-size="23" textLength="320.53" lengthAdjust="spacingAndGlyphs"><tspan font-weight="bold">VGS</tspan>-Gate to Source Voltage (V)</text>
<text x="938.7" y="940.6" font-size="23" textLength="111.9" lengthAdjust="spacingAndGlyphs">VDS=300V</text>
<text x="938.01" y="965.8" font-size="23" textLength="72.64" lengthAdjust="spacingAndGlyphs">ID=24A</text>
<text x="938.74" y="998.7" font-size="23" textLength="75.15" lengthAdjust="spacingAndGlyphs">Tj=25°C</text>
<rect x="92.5" y="1515.5" width="707" height="510" fill="#fff" stroke="#c9c9c9" stroke-width="1"/>
<clipPath id="cp5"><rect x="196" y="1526" width="575" height="428"/></clipPath>
<g stroke-width="1" shape-rendering="crispEdges" fill="none"><path d="M339.5,1526 V1954" stroke="#101010"/><path d="M483.5,1526 V1954" stroke="#101010"/><path d="M627.5,1526 V1954" stroke="#101010"/><path d="M196,1868.5 H771" stroke="#101010"/><path d="M196,1782.5 H771" stroke="#101010"/><path d="M196,1697.5 H771" stroke="#101010"/><path d="M196,1611.5 H771" stroke="#101010"/><path d="M267.5,1526 V1954" stroke="#bbbbbb"/><path d="M411.5,1526 V1954" stroke="#bbbbbb"/><path d="M555.5,1526 V1954" stroke="#bbbbbb"/><path d="M699.5,1526 V1954" stroke="#bbbbbb"/><path d="M196,1911.5 H771" stroke="#bbbbbb"/><path d="M196,1825.5 H771" stroke="#bbbbbb"/><path d="M196,1740.5 H771" stroke="#bbbbbb"/><path d="M196,1654.5 H771" stroke="#bbbbbb"/><path d="M196,1568.5 H771" stroke="#bbbbbb"/></g>
<path d="M319.63,1517.44 L319.71,1519.07 L319.8,1520.72 L319.88,1522.4 L319.97,1524.15 L320.06,1526 L320.11,1527.24 L320.17,1528.5 L320.22,1529.79 L320.28,1531.11 L320.33,1532.45 L320.39,1533.81 L320.44,1535.19 L320.5,1536.6 L320.56,1538.03 L320.61,1539.47 L320.67,1540.94 L320.72,1542.42 L320.78,1543.92 L320.83,1545.43 L320.89,1546.96 L320.94,1548.51 L321,1550.06 L321.05,1551.63 L321.11,1553.21 L321.17,1554.79 L321.22,1556.39 L321.28,1557.99 L321.33,1559.6 L321.39,1561.22 L321.44,1562.84 L321.5,1564.47 L321.55,1566.1 L321.61,1567.73 L321.67,1569.36 L321.72,1570.99 L321.78,1572.62 L321.83,1574.25 L321.89,1575.88 L321.94,1577.5 L322,1579.12 L322.05,1580.74 L322.11,1582.34 L322.16,1583.94 L322.22,1585.53 L322.28,1587.11 L322.33,1588.68 L322.39,1590.24 L322.44,1591.79 L322.5,1593.32 L322.55,1594.84 L322.61,1596.34 L322.66,1597.83 L322.72,1599.3 L322.77,1600.75 L322.83,1602.19 L322.89,1603.6 L322.94,1604.99 L323,1606.36 L323.05,1607.71 L323.11,1609.03 L323.16,1610.33 L323.22,1611.6 L323.3,1613.36 L323.38,1615.11 L323.45,1616.84 L323.53,1618.55 L323.61,1620.24 L323.69,1621.92 L323.77,1623.58 L323.84,1625.22 L323.92,1626.85 L324,1628.47 L324.08,1630.07 L324.16,1631.66 L324.24,1633.23 L324.31,1634.79 L324.39,1636.34 L324.47,1637.88 L324.55,1639.41 L324.63,1640.92 L324.7,1642.43 L324.78,1643.93 L324.86,1645.42 L324.94,1646.9 L325.02,1648.37 L325.1,1649.83 L325.17,1651.29 L325.25,1652.74 L325.33,1654.18 L325.41,1655.62 L325.49,1657.05 L325.56,1658.48 L325.64,1659.91 L325.72,1661.33 L325.8,1662.75 L325.88,1664.17 L325.96,1665.58 L326.03,1666.99 L326.11,1668.4 L326.19,1669.82 L326.27,1671.23 L326.35,1672.64 L326.42,1674.05 L326.5,1675.47 L326.58,1676.88 L326.66,1678.3 L326.74,1679.72 L326.82,1681.15 L326.89,1682.58 L326.97,1684.01 L327.05,1685.45 L327.13,1686.89 L327.21,1688.34 L327.28,1689.8 L327.36,1691.26 L327.44,1692.74 L327.52,1694.21 L327.6,1695.7 L327.68,1697.2 L327.75,1698.7 L327.83,1700.21 L327.91,1701.71 L327.99,1703.22 L328.07,1704.73 L328.14,1706.24 L328.22,1707.75 L328.3,1709.26 L328.38,1710.77 L328.46,1712.28 L328.53,1713.8 L328.61,1715.31 L328.69,1716.83 L328.77,1718.35 L328.85,1719.86 L328.93,1721.38 L329,1722.9 L329.08,1724.41 L329.16,1725.93 L329.24,1727.45 L329.32,1728.96 L329.39,1730.48 L329.47,1732 L329.55,1733.51 L329.63,1735.03 L329.71,1736.55 L329.79,1738.06 L329.86,1739.57 L329.94,1741.09 L330.02,1742.6 L330.1,1744.11 L330.18,1745.62 L330.25,1747.13 L330.33,1748.64 L330.41,1750.15 L330.49,1751.65 L330.57,1753.16 L330.65,1754.66 L330.72,1756.16 L330.8,1757.66 L330.88,1759.16 L330.96,1760.65 L331.04,1762.15 L331.11,1763.64 L331.19,1765.13 L331.27,1766.61 L331.35,1768.1 L331.43,1769.58 L331.51,1771.06 L331.58,1772.54 L331.66,1774.01 L331.74,1775.48 L331.82,1776.95 L331.9,1778.42 L331.97,1779.88 L332.05,1781.34 L332.13,1782.8 L332.21,1784.35 L332.3,1785.91 L332.38,1787.48 L332.46,1789.05 L332.55,1790.63 L332.63,1792.21 L332.71,1793.8 L332.8,1795.39 L332.88,1796.99 L332.96,1798.59 L333.05,1800.19 L333.13,1801.79 L333.21,1803.4 L333.3,1805 L333.38,1806.61 L333.46,1808.22 L333.55,1809.83 L333.63,1811.43 L333.71,1813.04 L333.8,1814.64 L333.88,1816.24 L333.96,1817.84 L334.05,1819.44 L334.13,1821.03 L334.21,1822.62 L334.3,1824.2 L334.38,1825.78 L334.46,1827.36 L334.54,1828.92 L334.63,1830.48 L334.71,1832.04 L334.79,1833.58 L334.88,1835.12 L334.96,1836.65 L335.04,1838.17 L335.13,1839.68 L335.21,1841.19 L335.29,1842.68 L335.38,1844.16 L335.46,1845.63 L335.54,1847.08 L335.63,1848.53 L335.71,1849.96 L335.79,1851.38 L335.88,1852.79 L335.96,1854.18 L336.04,1855.55 L336.13,1856.91 L336.21,1858.26 L336.29,1859.59 L336.38,1860.9 L336.46,1862.2 L336.54,1863.47 L336.63,1864.73 L336.71,1865.98 L336.79,1867.2 L336.88,1868.4 L337,1870.25 L337.13,1872.08 L337.26,1873.88 L337.39,1875.64 L337.52,1877.35 L337.65,1878.99 L337.78,1880.55 L337.91,1882.03 L338.04,1883.4 L338.17,1884.66 L338.39,1886.72 L338.62,1888.67 L338.85,1890.5 L339.07,1892.19 L339.3,1893.7 L339.52,1895.02 L339.75,1896.13 L340.22,1898.06 L340.68,1899.7 L341.15,1901.01 L341.62,1901.96 L342.79,1903.64 L343.96,1905.01 L345.13,1906.12 L346.3,1907.05 L347.47,1907.88 L348.64,1908.66 L349.81,1909.49 L351.17,1910.45 L352.52,1911.36 L353.88,1912.21 L355.23,1913.02 L356.59,1913.79 L357.94,1914.56 L359.3,1915.31 L360.74,1916.12 L362.18,1916.94 L363.61,1917.75 L365.05,1918.54 L366.49,1919.28 L367.93,1919.98 L369.36,1920.6 L370.8,1921.13 L372.34,1921.63 L373.88,1922.09 L375.41,1922.52 L376.95,1922.92 L378.49,1923.3 L380.03,1923.65 L381.57,1923.98 L383.11,1924.3 L384.64,1924.6 L386.18,1924.9 L387.68,1925.17 L389.17,1925.44 L390.67,1925.71 L392.17,1925.96 L393.66,1926.21 L395.16,1926.45 L396.66,1926.68 L398.15,1926.9 L399.65,1927.12 L401.15,1927.34 L402.64,1927.54 L404.14,1927.74 L405.64,1927.94 L407.13,1928.13 L408.63,1928.31 L410.13,1928.49 L411.62,1928.66 L413.13,1928.83 L414.64,1929 L416.14,1929.17 L417.65,1929.34 L419.15,1929.5 L420.66,1929.66 L422.17,1929.81 L423.67,1929.97 L425.18,1930.12 L426.68,1930.26 L428.19,1930.41 L429.7,1930.55 L431.2,1930.68 L432.71,1930.81 L434.21,1930.93 L435.72,1931.05 L437.23,1931.17 L438.73,1931.28 L440.24,1931.38 L441.74,1931.48 L443.25,1931.57 L444.8,1931.66 L446.35,1931.75 L447.89,1931.83 L449.44,1931.91 L450.99,1931.99 L452.54,1932.06 L454.09,1932.14 L455.63,1932.21 L457.18,1932.27 L458.73,1932.34 L460.28,1932.4 L461.83,1932.47 L463.38,1932.53 L464.92,1932.59 L466.47,1932.65 L468.02,1932.71 L469.57,1932.76 L471.12,1932.82 L472.66,1932.88 L474.21,1932.94 L475.76,1932.99 L477.31,1933.05 L478.86,1933.11 L480.4,1933.17 L481.95,1933.22 L483.5,1933.28 L485.03,1933.34 L486.56,1933.4 L488.09,1933.46 L489.62,1933.52 L491.15,1933.58 L492.68,1933.64 L494.2,1933.7 L495.73,1933.76 L497.26,1933.82 L498.79,1933.88 L500.32,1933.94 L501.85,1933.99 L503.38,1934.05 L504.91,1934.11 L506.44,1934.17 L507.97,1934.23 L509.5,1934.28 L511.03,1934.34 L512.56,1934.4 L514.09,1934.45 L515.61,1934.51 L517.14,1934.57 L518.67,1934.62 L520.2,1934.68 L521.73,1934.73 L523.26,1934.79 L524.79,1934.84 L526.32,1934.9 L527.85,1934.95 L529.38,1935 L530.91,1935.06 L532.44,1935.11 L533.97,1935.16 L535.49,1935.21 L537.02,1935.27 L538.55,1935.32 L540.08,1935.37 L541.61,1935.42 L543.14,1935.47 L544.67,1935.52 L546.2,1935.57 L547.73,1935.62 L549.26,1935.66 L550.79,1935.71 L552.32,1935.76 L553.85,1935.81 L555.38,1935.85 L556.9,1935.9 L558.43,1935.95 L559.96,1935.99 L561.49,1936.04 L563.02,1936.09 L564.55,1936.13 L566.08,1936.18 L567.61,1936.23 L569.14,1936.28 L570.67,1936.32 L572.2,1936.37 L573.73,1936.42 L575.26,1936.47 L576.78,1936.51 L578.31,1936.56 L579.84,1936.61 L581.37,1936.65 L582.9,1936.7 L584.43,1936.75 L585.96,1936.79 L587.49,1936.84 L589.02,1936.88 L590.55,1936.92 L592.08,1936.97 L593.61,1937.01 L595.14,1937.05 L596.66,1937.09 L598.19,1937.13 L599.72,1937.17 L601.25,1937.21 L602.78,1937.25 L604.31,1937.29 L605.84,1937.33 L607.37,1937.36 L608.9,1937.4 L610.43,1937.43 L611.96,1937.47 L613.49,1937.5 L615.02,1937.53 L616.55,1937.56 L618.07,1937.59 L619.6,1937.62 L621.13,1937.64 L622.66,1937.67 L624.19,1937.69 L625.72,1937.71 L627.25,1937.74 L628.76,1937.76 L630.28,1937.78 L631.79,1937.8 L633.3,1937.82 L634.82,1937.84 L636.33,1937.86 L637.84,1937.88 L639.36,1937.9 L640.87,1937.92 L642.38,1937.94 L643.89,1937.96 L645.41,1937.97 L646.92,1937.99 L648.43,1938.01 L649.95,1938.03 L651.46,1938.05 L652.97,1938.07 L654.49,1938.09 L656,1938.11 L657.51,1938.13 L659.03,1938.14 L660.54,1938.16 L662.05,1938.18 L663.57,1938.2 L665.08,1938.22 L666.59,1938.23 L668.11,1938.25 L669.62,1938.27 L671.13,1938.29 L672.64,1938.3 L674.16,1938.32 L675.67,1938.34 L677.18,1938.35 L678.7,1938.37 L680.21,1938.39 L681.72,1938.4 L683.24,1938.42 L684.75,1938.44 L686.26,1938.45 L687.78,1938.47 L689.29,1938.48 L690.8,1938.5 L692.32,1938.51 L693.83,1938.53 L695.34,1938.54 L696.86,1938.56 L698.37,1938.57 L699.88,1938.58 L701.39,1938.6 L702.91,1938.61 L704.42,1938.62 L705.93,1938.64 L707.45,1938.65 L708.96,1938.66 L710.47,1938.67 L711.99,1938.69 L713.5,1938.7 L715.01,1938.71 L716.53,1938.72 L718.04,1938.73 L719.55,1938.74 L721.07,1938.75 L722.58,1938.76 L724.09,1938.77 L725.61,1938.78 L727.12,1938.79 L728.63,1938.8 L730.14,1938.81 L731.66,1938.82 L733.17,1938.83 L734.68,1938.84 L736.2,1938.84 L737.71,1938.85 L739.22,1938.86 L740.74,1938.86 L742.25,1938.87 L743.76,1938.88 L745.28,1938.88 L746.79,1938.89 L748.3,1938.89 L749.82,1938.9 L751.33,1938.9 L752.84,1938.91 L754.36,1938.91 L755.87,1938.92 L757.38,1938.92 L758.89,1938.92 L760.41,1938.93 L761.92,1938.93 L763.43,1938.93 L764.95,1938.93 L766.46,1938.93 L767.97,1938.93 L769.49,1938.93 L771,1938.93" fill="none" stroke="#000" stroke-width="3.8" stroke-linejoin="round" stroke-linecap="butt" clip-path="url(#cp5)"/>
<path d="M194,1524 H773 V1956 H194 Z M198,1528 V1952 H769 V1528 Z" fill="#000" fill-rule="evenodd" shape-rendering="crispEdges"/>
<text x="190.57" y="1985" font-size="20" textLength="10.73" lengthAdjust="spacingAndGlyphs">6</text>
<text x="334.37" y="1985" font-size="20" textLength="10.73" lengthAdjust="spacingAndGlyphs">7</text>
<text x="478.13" y="1985" font-size="20" textLength="10.73" lengthAdjust="spacingAndGlyphs">8</text>
<text x="621.89" y="1985" font-size="20" textLength="10.73" lengthAdjust="spacingAndGlyphs">9</text>
<text x="759.91" y="1985" font-size="20" textLength="21.47" lengthAdjust="spacingAndGlyphs">10</text>
<text x="157.19" y="1960" font-size="20" textLength="21.47" lengthAdjust="spacingAndGlyphs">50</text>
<text x="146.45" y="1875" font-size="20" textLength="32.2" lengthAdjust="spacingAndGlyphs">100</text>
<text x="146.45" y="1789" font-size="20" textLength="32.2" lengthAdjust="spacingAndGlyphs">150</text>
<text x="146.45" y="1704" font-size="20" textLength="32.2" lengthAdjust="spacingAndGlyphs">200</text>
<text x="146.45" y="1618" font-size="20" textLength="32.2" lengthAdjust="spacingAndGlyphs">250</text>
<text x="146.45" y="1532" font-size="20" textLength="32.2" lengthAdjust="spacingAndGlyphs">300</text>
<text x="318.95" y="2016" font-size="23" textLength="323.54" lengthAdjust="spacingAndGlyphs"><tspan font-weight="bold">VGS</tspan>-Gate to Source Voltage (V)</text>
<text transform="translate(132.2,1953.28) rotate(-90)" font-size="23" textLength="393.06" lengthAdjust="spacingAndGlyphs"><tspan font-weight="bold">R</tspan><tspan font-size="17.2">DS(on)</tspan>-Drain to Source resistance (mΩ)</text>
<text x="204.58" y="1904.6" font-size="23" textLength="73.66" lengthAdjust="spacingAndGlyphs">ID=33A</text>
<text x="205.63" y="1936.5" font-size="23" textLength="75.65" lengthAdjust="spacingAndGlyphs">Tj=25°C</text>
<rect x="853.5" y="1514.5" width="707" height="511" fill="#fff" stroke="#c9c9c9" stroke-width="1"/>
<clipPath id="cp6"><rect x="954.4" y="1526" width="573.6" height="422"/></clipPath>
<g stroke-width="1" shape-rendering="crispEdges" fill="none"><path d="M1069.5,1526 V1948" stroke="#101010"/><path d="M1183.5,1526 V1948" stroke="#101010"/><path d="M1298.5,1526 V1948" stroke="#101010"/><path d="M1413.5,1526 V1948" stroke="#101010"/><path d="M954.4,1877.5 H1528" stroke="#101010"/><path d="M954.4,1807.5 H1528" stroke="#101010"/><path d="M954.4,1736.5 H1528" stroke="#101010"/><path d="M954.4,1666.5 H1528" stroke="#101010"/><path d="M954.4,1596.5 H1528" stroke="#101010"/><path d="M1011.5,1526 V1948" stroke="#bbbbbb"/><path d="M1126.5,1526 V1948" stroke="#bbbbbb"/><path d="M1241.5,1526 V1948" stroke="#bbbbbb"/><path d="M1355.5,1526 V1948" stroke="#bbbbbb"/><path d="M1470.5,1526 V1948" stroke="#bbbbbb"/><path d="M954.4,1912.5 H1528" stroke="#bbbbbb"/><path d="M954.4,1842.5 H1528" stroke="#bbbbbb"/><path d="M954.4,1772.5 H1528" stroke="#bbbbbb"/><path d="M954.4,1701.5 H1528" stroke="#bbbbbb"/><path d="M954.4,1631.5 H1528" stroke="#bbbbbb"/><path d="M954.4,1561.5 H1528" stroke="#bbbbbb"/></g>
<path d="M1000.06,1879.35 L1001.52,1879 L1002.98,1878.64 L1004.45,1878.27 L1005.91,1877.89 L1007.37,1877.51 L1008.83,1877.12 L1010.3,1876.71 L1011.76,1876.3 L1013.21,1875.88 L1014.65,1875.46 L1016.1,1875.02 L1017.54,1874.57 L1018.99,1874.12 L1020.43,1873.66 L1021.88,1873.19 L1023.32,1872.71 L1024.77,1872.23 L1026.21,1871.75 L1027.66,1871.27 L1029.11,1870.78 L1030.55,1870.29 L1032,1869.8 L1033.44,1869.31 L1034.89,1868.83 L1036.33,1868.34 L1037.78,1867.86 L1039.22,1867.38 L1040.67,1866.91 L1042.17,1866.42 L1043.66,1865.94 L1045.16,1865.45 L1046.66,1864.97 L1048.16,1864.49 L1049.65,1864.02 L1051.15,1863.54 L1052.65,1863.06 L1054.15,1862.58 L1055.64,1862.1 L1057.14,1861.61 L1058.64,1861.13 L1060.14,1860.64 L1061.63,1860.14 L1063.13,1859.65 L1064.63,1859.14 L1066.13,1858.63 L1067.62,1858.12 L1069.12,1857.59 L1070.56,1857.09 L1071.99,1856.57 L1073.43,1856.05 L1074.87,1855.53 L1076.31,1855 L1077.74,1854.46 L1079.18,1853.92 L1080.62,1853.38 L1082.05,1852.83 L1083.49,1852.28 L1084.93,1851.73 L1086.36,1851.17 L1087.8,1850.62 L1089.24,1850.06 L1090.68,1849.5 L1092.11,1848.93 L1093.55,1848.37 L1094.99,1847.81 L1096.42,1847.24 L1097.85,1846.68 L1099.29,1846.12 L1100.72,1845.55 L1102.15,1844.99 L1103.58,1844.42 L1105.01,1843.86 L1106.44,1843.29 L1107.87,1842.72 L1109.3,1842.14 L1110.74,1841.57 L1112.17,1840.99 L1113.6,1840.41 L1115.03,1839.82 L1116.46,1839.23 L1117.89,1838.64 L1119.32,1838.04 L1120.75,1837.44 L1122.19,1836.83 L1123.62,1836.22 L1125.05,1835.6 L1126.48,1834.97 L1127.89,1834.35 L1129.3,1833.72 L1130.71,1833.08 L1132.12,1832.44 L1133.54,1831.79 L1134.95,1831.13 L1136.36,1830.47 L1137.77,1829.8 L1139.18,1829.13 L1140.59,1828.46 L1142,1827.78 L1143.41,1827.1 L1144.82,1826.42 L1146.23,1825.73 L1147.65,1825.05 L1149.06,1824.37 L1150.47,1823.68 L1151.88,1823 L1153.29,1822.32 L1154.7,1821.64 L1156.09,1820.97 L1157.48,1820.31 L1158.86,1819.65 L1160.25,1819 L1161.64,1818.34 L1163.03,1817.68 L1164.41,1817.03 L1165.8,1816.37 L1167.19,1815.71 L1168.58,1815.05 L1169.96,1814.38 L1171.35,1813.72 L1172.74,1813.04 L1174.13,1812.36 L1175.51,1811.68 L1176.9,1810.99 L1178.29,1810.29 L1179.68,1809.58 L1181.06,1808.87 L1182.45,1808.14 L1183.84,1807.4 L1185.14,1806.7 L1186.45,1805.99 L1187.75,1805.27 L1189.05,1804.54 L1190.36,1803.81 L1191.66,1803.06 L1192.97,1802.31 L1194.27,1801.55 L1195.57,1800.79 L1196.88,1800.02 L1198.18,1799.24 L1199.48,1798.46 L1200.79,1797.68 L1202.09,1796.89 L1203.39,1796.1 L1204.7,1795.3 L1206,1794.51 L1207.31,1793.71 L1208.61,1792.91 L1209.91,1792.11 L1211.22,1791.31 L1212.52,1790.51 L1213.82,1789.71 L1215.13,1788.9 L1216.43,1788.09 L1217.73,1787.27 L1219.04,1786.45 L1220.34,1785.63 L1221.65,1784.8 L1222.95,1783.97 L1224.25,1783.14 L1225.56,1782.3 L1226.86,1781.46 L1228.16,1780.62 L1229.47,1779.78 L1230.77,1778.93 L1232.07,1778.09 L1233.38,1777.24 L1234.68,1776.4 L1235.99,1775.55 L1237.29,1774.7 L1238.59,1773.86 L1239.9,1773.01 L1241.2,1772.17 L1242.5,1771.32 L1243.81,1770.48 L1245.11,1769.64 L1246.41,1768.81 L1247.72,1767.97 L1249.02,1767.13 L1250.33,1766.3 L1251.63,1765.46 L1252.93,1764.62 L1254.24,1763.78 L1255.54,1762.94 L1256.84,1762.09 L1258.15,1761.24 L1259.45,1760.39 L1260.75,1759.53 L1262.06,1758.67 L1263.36,1757.8 L1264.67,1756.93 L1265.97,1756.05 L1267.27,1755.17 L1268.58,1754.27 L1269.88,1753.37 L1271.13,1752.51 L1272.37,1751.64 L1273.62,1750.76 L1274.87,1749.89 L1276.11,1749.01 L1277.36,1748.12 L1278.61,1747.24 L1279.86,1746.34 L1281.1,1745.44 L1282.35,1744.54 L1283.6,1743.63 L1284.84,1742.72 L1286.09,1741.8 L1287.34,1740.87 L1288.58,1739.94 L1289.83,1739 L1291.08,1738.06 L1292.33,1737.1 L1293.57,1736.14 L1294.82,1735.17 L1296.07,1734.2 L1297.31,1733.21 L1298.56,1732.22 L1299.71,1731.29 L1300.85,1730.36 L1302,1729.41 L1303.15,1728.46 L1304.3,1727.5 L1305.44,1726.53 L1306.59,1725.55 L1307.74,1724.56 L1308.88,1723.57 L1310.03,1722.57 L1311.18,1721.56 L1312.33,1720.55 L1313.47,1719.53 L1314.62,1718.51 L1315.77,1717.48 L1316.92,1716.46 L1318.06,1715.42 L1319.21,1714.39 L1320.36,1713.35 L1321.5,1712.31 L1322.65,1711.27 L1323.8,1710.23 L1324.95,1709.19 L1326.09,1708.15 L1327.24,1707.11 L1328.34,1706.11 L1329.45,1705.1 L1330.55,1704.08 L1331.65,1703.06 L1332.76,1702.03 L1333.86,1701 L1334.96,1699.96 L1336.06,1698.92 L1337.17,1697.88 L1338.27,1696.84 L1339.37,1695.79 L1340.48,1694.74 L1341.58,1693.69 L1342.68,1692.64 L1343.79,1691.59 L1344.89,1690.54 L1345.99,1689.49 L1347.1,1688.44 L1348.2,1687.4 L1349.3,1686.35 L1350.4,1685.31 L1351.51,1684.27 L1352.61,1683.24 L1353.71,1682.21 L1354.82,1681.19 L1355.92,1680.17 L1357.07,1679.12 L1358.21,1678.06 L1359.36,1677.02 L1360.51,1675.97 L1361.66,1674.93 L1362.8,1673.89 L1363.95,1672.85 L1365.1,1671.81 L1366.24,1670.77 L1367.39,1669.74 L1368.54,1668.71 L1369.69,1667.68 L1370.83,1666.65 L1371.98,1665.62 L1373.13,1664.59 L1374.28,1663.56 L1375.42,1662.53 L1376.57,1661.5 L1377.72,1660.47 L1378.86,1659.44 L1380.01,1658.41 L1381.16,1657.38 L1382.31,1656.35 L1383.45,1655.32 L1384.6,1654.29 L1385.75,1653.25 L1386.89,1652.22 L1388.04,1651.19 L1389.19,1650.17 L1390.34,1649.14 L1391.48,1648.12 L1392.63,1647.09 L1393.78,1646.07 L1394.92,1645.04 L1396.07,1644.02 L1397.22,1642.99 L1398.37,1641.97 L1399.51,1640.94 L1400.66,1639.91 L1401.81,1638.89 L1402.96,1637.86 L1404.1,1636.82 L1405.25,1635.79 L1406.4,1634.75 L1407.54,1633.71 L1408.69,1632.67 L1409.84,1631.62 L1410.99,1630.57 L1412.13,1629.52 L1413.28,1628.46 L1414.38,1627.44 L1415.49,1626.42 L1416.59,1625.4 L1417.69,1624.37 L1418.8,1623.34 L1419.9,1622.31 L1421,1621.28 L1422.1,1620.24 L1423.21,1619.21 L1424.31,1618.17 L1425.41,1617.13 L1426.52,1616.09 L1427.62,1615.04 L1428.72,1613.99 L1429.83,1612.95 L1430.93,1611.89 L1432.03,1610.84 L1433.14,1609.78 L1434.24,1608.73 L1435.34,1607.67 L1436.44,1606.6 L1437.55,1605.54 L1438.65,1604.47 L1439.75,1603.4 L1440.86,1602.33 L1441.96,1601.26 L1443.06,1600.19 L1444.15,1599.11 L1445.25,1598.04 L1446.34,1596.96 L1447.44,1595.88 L1448.54,1594.8 L1449.63,1593.72 L1450.73,1592.63 L1451.83,1591.55 L1452.92,1590.46 L1454.02,1589.36 L1455.11,1588.27 L1456.21,1587.17 L1457.31,1586.07 L1458.4,1584.97 L1459.5,1583.87 L1460.6,1582.76 L1461.69,1581.65 L1462.79,1580.54 L1463.88,1579.43 L1464.98,1578.31 L1466.08,1577.2 L1467.17,1576.08 L1468.27,1574.95 L1469.37,1573.83 L1470.46,1572.7 L1471.56,1571.58" fill="none" stroke="#000" stroke-width="3.1" stroke-linejoin="round" stroke-linecap="butt" clip-path="url(#cp6)"/>
<path d="M954,1524 H1530 V1950 H954 Z M957,1528 V1946 H1526 V1528 Z" fill="#000" fill-rule="evenodd" shape-rendering="crispEdges"/>
<text x="939.73" y="1979" font-size="20" textLength="27.89" lengthAdjust="spacingAndGlyphs">-75</text>
<text x="1054.45" y="1979" font-size="20" textLength="27.89" lengthAdjust="spacingAndGlyphs">-25</text>
<text x="1173.03" y="1979" font-size="20" textLength="21.47" lengthAdjust="spacingAndGlyphs">25</text>
<text x="1287.74" y="1979" font-size="20" textLength="21.47" lengthAdjust="spacingAndGlyphs">75</text>
<text x="1396.85" y="1979" font-size="20" textLength="32.2" lengthAdjust="spacingAndGlyphs">125</text>
<text x="1511.57" y="1979" font-size="20" textLength="32.2" lengthAdjust="spacingAndGlyphs">175</text>
<text x="926.72" y="1954" font-size="20" textLength="10.73" lengthAdjust="spacingAndGlyphs">0</text>
<text x="910.68" y="1884" font-size="20" textLength="26.83" lengthAdjust="spacingAndGlyphs">0.5</text>
<text x="926.91" y="1813" font-size="20" textLength="10.73" lengthAdjust="spacingAndGlyphs">1</text>
<text x="910.68" y="1743" font-size="20" textLength="26.83" lengthAdjust="spacingAndGlyphs">1.5</text>
<text x="926.94" y="1673" font-size="20" textLength="10.73" lengthAdjust="spacingAndGlyphs">2</text>
<text x="910.68" y="1602" font-size="20" textLength="26.83" lengthAdjust="spacingAndGlyphs">2.5</text>
<text x="926.81" y="1532" font-size="20" textLength="10.73" lengthAdjust="spacingAndGlyphs">3</text>
<text x="1075.76" y="2011" font-size="23" textLength="286.18" lengthAdjust="spacingAndGlyphs"><tspan font-weight="bold">Tj</tspan>-Junction  Temperature (°C)</text>
<text transform="translate(879.7,1907.49) rotate(-90)" font-size="23" textLength="346.47" lengthAdjust="spacingAndGlyphs"><tspan font-weight="bold">R</tspan><tspan font-size="17.2">DS(on)</tspan>-Drain to Source Resistance</text>
<text transform="translate(904.8,1788.87) rotate(-90)" font-size="23" textLength="109.37" lengthAdjust="spacingAndGlyphs">Normalized</text>
<text x="963.1" y="1545.2" font-size="23" textLength="90.39" lengthAdjust="spacingAndGlyphs">Vgs=10V</text>
<text x="962.7" y="1570.3" font-size="23" textLength="72.94" lengthAdjust="spacingAndGlyphs">ID=24A</text>
</svg></body></html>
